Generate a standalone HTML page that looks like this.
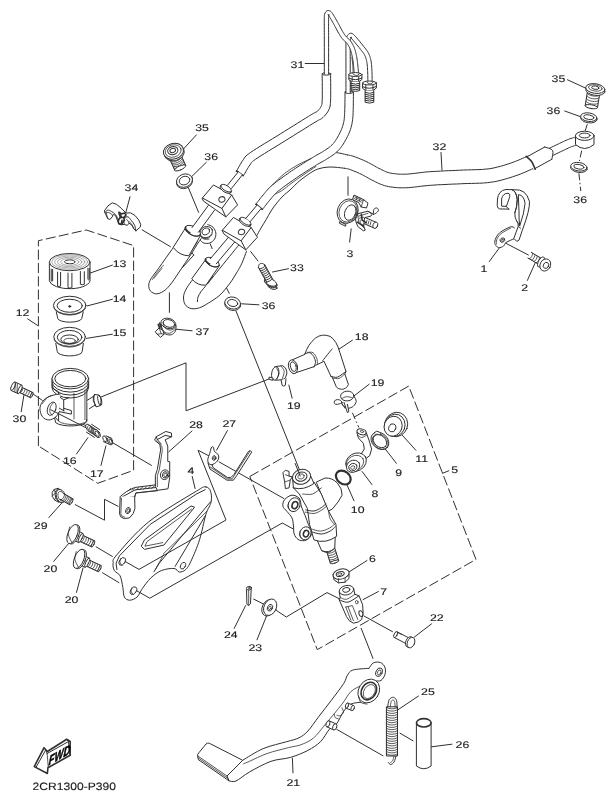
<!DOCTYPE html>
<html><head><meta charset="utf-8"><title>Rear master cylinder</title>
<style>
html,body{margin:0;padding:0;background:#fff}
svg{display:block;filter:blur(0.42px)}
path,ellipse,circle,line,polygon,polyline,rect{vector-effect:non-scaling-stroke;fill:none;stroke:#303030;stroke-width:1.0;stroke-linecap:round;stroke-linejoin:round}
.w{fill:#fff}
.k{fill:#303030}
.to{stroke-linecap:butt}
.ti{stroke:#fff;stroke-linecap:butt}
.d{stroke-dasharray:10 3.3;stroke-linecap:butt}
.dd{stroke-dasharray:7 2.5 1.5 2.5;stroke-linecap:butt}
.t{stroke-width:0.8}
.b{stroke-width:1.6}
.l{stroke-width:0.6;stroke:#777}
text{text-rendering:geometricPrecision;font-family:"Liberation Sans",sans-serif;fill:#1a1a1a;stroke:#1a1a1a;stroke-width:0.12}
</style></head>
<body>
<svg width="614" height="800" viewBox="0 0 614 800">
<rect x="0" y="0" width="614" height="800" style="fill:#fff;stroke:none"/>
<path d="M305.2 63.5 L324.2 63.5"/><path d="M441 152.5 L442 170"/><path d="M567.5 79.8 L586 88.3"/><path d="M564.7 111 L580.3 116.6"/><path d="M196.3 135 L183.2 149.3"/><path d="M206.3 162.3 L192.3 176"/><path d="M130 196.8 L125.8 212.6"/><path d="M142.2 229.9 L170.4 246.7"/><path d="M188.3 187.5 L198.6 212.4"/><path d="M169.4 292.8 L169.4 312.4"/><path d="M192.1 330.8 L175.8 329.2"/><path d="M348 176.8 L348 195.3"/><path d="M351.2 228.9 L349.6 242"/><path d="M489.3 261.5 L499.1 248.2"/><path d="M527.4 280.4 L535.2 262.8"/><path d="M504 242.3 L528.4 255"/><path d="M288.5 268.7 L272.5 272"/><path d="M250.7 251.5 L258 261"/><path d="M258.9 304.8 L241.6 303.8"/><path d="M236 311 L299.5 470"/><path d="M112.4 265.1 L89.6 273.3"/><path d="M112.4 299.3 L87.3 305.9"/><path d="M112.4 334.2 L86.3 338.4"/><path d="M27.7 318.9 L37.5 325.4"/><path d="M21.2 411.7 L24.4 392.1"/><path d="M32.6 393.7 L42.3 400.3"/><path d="M76.5 454 L87.9 437.7"/><path d="M101 465.4 L105.9 445.9"/><path d="M70 416.5 L89.6 428"/><path d="M112.4 442.6 L151.5 465.4"/><path d="M101 397 L186 362.8 L186 410.8 L268.5 379.2"/><path d="M192 431 L168.8 451.8"/><path d="M227.4 430.6 L216.6 450.2"/><path d="M192.2 476.5 L195.1 488.6"/><path d="M48.9 517.5 L61.9 502.9"/><path d="M75.2 504.6 L104.5 520.2 L104.5 499.3 L118 506.3"/><path d="M53.7 561.4 L70 541.9"/><path d="M76.5 592.4 L83 568"/><path d="M96.1 546.8 L112.4 556.5"/><path d="M102.6 572.8 L118.9 582.6"/><path d="M352.4 340.2 L337.7 350"/><path d="M369.2 384.2 L354.2 395.8"/><path d="M292.1 398.2 L288.9 385.1"/><path d="M415.9 450.3 L401.2 434"/><path d="M396.4 463.3 L385 448.7"/><path d="M371.9 484.5 L362.1 471.5"/><path d="M354 500.8 L346.8 484.5"/><path d="M442.5 473.3 L448.8 470.8"/><path d="M367 560.5 L349.1 571.9"/><path d="M378.4 591.5 L363.1 599.6"/><path d="M431.5 623.9 L414.4 637"/><path d="M363.8 615.9 L392.5 631.7"/><path d="M234.2 628.4 L245.6 605.6"/><path d="M257 639.8 L266.8 615.4"/><path d="M253.7 599.1 L263.5 604"/><path d="M276.5 610.5 L286.3 617 L327 592.6 L340 599.1"/><path d="M361.2 628.4 L373 658.5"/><path d="M336.8 729.4 L383 755.8"/><path d="M418.5 696 L398.2 709.6"/><path d="M431.4 746.8 L452 744.2"/><path d="M400 733.2 L413 740.8"/><path d="M292.4 758.2 L293 772.8"/><path d="M587.3 124.2 L585 131.5" class="dd"/><path d="M581.7 150.6 L579.4 161" class="dd"/><path d="M578.9 173.3 L580.8 191" class="dd"/><path d="M226.3 287.5 L229.6 294" class="dd"/><path d="M210 243.5 L212.3 249" class="dd"/><path d="M352.4 412.8 L358.9 427.5" class="dd"/><path d="M38.4 445.9 L38.4 240.7 L86.3 230 L133.6 245.6 L133.6 470.3 L97.7 483.3 L38.4 445.9" class="d"/><path d="M249.8 476.5 L408.7 386.1 L476 559.4 L317.3 649.6Z" class="d"/><path d="M344.7 168.3 L345.2 168.4 L345.9 168.5 L346.4 168.6 L347 168.7 L347.6 168.8 L348.2 168.9 L348.9 169.1 L349.8 169.4 L350.8 169.8 L352.1 170.3 L353.5 170.9 L355 171.5 L356.6 172.1 L358.1 172.8 L359.6 173.5 L361 174.1 L362.4 174.8 L363.7 175.5 L365.2 176.3 L366.6 177.2 L368.2 178 L369.7 178.9 L371.4 179.8 L373 180.6 L374.4 181.3 L375.8 182 L377.3 182.7 L378.9 183.5 L380.5 184.2 L382.4 184.9 L384.4 185.6 L386.5 186.1 L388.5 186.6 L390.6 186.9 L392.8 187.2 L395.1 187.5 L397.4 187.7 L399.9 187.8 L402.4 187.8 L405.2 187.8 L408.2 187.7 L411.2 187.4 L414.3 187.1 L417.5 186.7 L420.7 186.3 L424 185.9 L427.2 185.6 L430.5 185.3 L433.9 185.1 L437.5 184.8 L441.2 184.7 L445 184.5 L448.8 184.3 L452.7 184.1 L456.5 184 L460.3 183.8 L464 183.6 L467.8 183.5 L471.7 183.4 L475.7 183.3 L479.6 183.2 L483.4 183 L487.3 182.7 L490.9 182.2 L494.5 181.7 L497.8 181 L501.1 180.2 L504.1 179.4 L507.1 178.5 L509.9 177.7 L512.6 176.8 L515.2 175.9 L517.9 175 L520.6 174 L523.2 172.9 L525.6 171.9 L527.9 170.9 L529.9 170 L531.5 169.3 L532.7 168.7 L527.3 156.3 L526 156.8 L524.3 157.6 L522.4 158.4 L520.2 159.4 L517.9 160.4 L515.6 161.3 L513.2 162.2 L510.8 163.1 L508.4 163.9 L505.8 164.7 L503.2 165.5 L500.5 166.3 L497.7 167 L494.9 167.7 L492 168.3 L489.1 168.8 L485.9 169.1 L482.5 169.4 L479 169.6 L475.2 169.7 L471.4 169.8 L467.5 169.9 L463.6 170 L459.7 170.2 L455.9 170.4 L452.1 170.6 L448.2 170.7 L444.4 170.9 L440.6 171.1 L436.8 171.3 L433.1 171.5 L429.5 171.7 L425.9 172 L422.5 172.4 L419.1 172.8 L415.9 173.2 L412.8 173.6 L409.9 173.9 L407.3 174.1 L404.8 174.2 L402.5 174.2 L400.3 174.2 L398.2 174.1 L396.3 173.9 L394.5 173.7 L392.8 173.5 L391.1 173.2 L389.5 172.9 L388.1 172.5 L386.9 172.1 L385.7 171.7 L384.5 171.1 L383.3 170.5 L381.9 169.9 L380.5 169.1 L379 168.4 L377.6 167.7 L376.3 167 L374.8 166.2 L373.4 165.3 L371.8 164.5 L370.3 163.6 L368.6 162.7 L367 161.9 L365.3 161.1 L363.6 160.3 L361.9 159.6 L360.2 158.9 L358.6 158.2 L357 157.6 L355.6 157.1 L354.2 156.6 L352.9 156.1 L351.7 155.8 L350.5 155.5 L349.5 155.3 L348.7 155.2 L348 155.1 L347.6 155 L347.3 154.9Z" style="fill:#fff;stroke:none"/><path d="M344.7 168.3 L345.2 168.4 L345.9 168.5 L346.4 168.6 L347 168.7 L347.6 168.8 L348.2 168.9 L348.9 169.1 L349.8 169.4 L350.8 169.8 L352.1 170.3 L353.5 170.9 L355 171.5 L356.6 172.1 L358.1 172.8 L359.6 173.5 L361 174.1 L362.4 174.8 L363.7 175.5 L365.2 176.3 L366.6 177.2 L368.2 178 L369.7 178.9 L371.4 179.8 L373 180.6 L374.4 181.3 L375.8 182 L377.3 182.7 L378.9 183.5 L380.5 184.2 L382.4 184.9 L384.4 185.6 L386.5 186.1 L388.5 186.6 L390.6 186.9 L392.8 187.2 L395.1 187.5 L397.4 187.7 L399.9 187.8 L402.4 187.8 L405.2 187.8 L408.2 187.7 L411.2 187.4 L414.3 187.1 L417.5 186.7 L420.7 186.3 L424 185.9 L427.2 185.6 L430.5 185.3 L433.9 185.1 L437.5 184.8 L441.2 184.7 L445 184.5 L448.8 184.3 L452.7 184.1 L456.5 184 L460.3 183.8 L464 183.6 L467.8 183.5 L471.7 183.4 L475.7 183.3 L479.6 183.2 L483.4 183 L487.3 182.7 L490.9 182.2 L494.5 181.7 L497.8 181 L501.1 180.2 L504.1 179.4 L507.1 178.5 L509.9 177.7 L512.6 176.8 L515.2 175.9 L517.9 175 L520.6 174 L523.2 172.9 L525.6 171.9 L527.9 170.9 L529.9 170 L531.5 169.3 L532.7 168.7"/><path d="M347.3 154.9 L347.6 155 L348 155.1 L348.7 155.2 L349.5 155.3 L350.5 155.5 L351.7 155.8 L352.9 156.1 L354.2 156.6 L355.6 157.1 L357 157.6 L358.6 158.2 L360.2 158.9 L361.9 159.6 L363.6 160.3 L365.3 161.1 L367 161.9 L368.6 162.7 L370.3 163.6 L371.8 164.5 L373.4 165.3 L374.8 166.2 L376.3 167 L377.6 167.7 L379 168.4 L380.5 169.1 L381.9 169.9 L383.3 170.5 L384.5 171.1 L385.7 171.7 L386.9 172.1 L388.1 172.5 L389.5 172.9 L391.1 173.2 L392.8 173.5 L394.5 173.7 L396.3 173.9 L398.2 174.1 L400.3 174.2 L402.5 174.2 L404.8 174.2 L407.3 174.1 L409.9 173.9 L412.8 173.6 L415.9 173.2 L419.1 172.8 L422.5 172.4 L425.9 172 L429.5 171.7 L433.1 171.5 L436.8 171.3 L440.6 171.1 L444.4 170.9 L448.2 170.7 L452.1 170.6 L455.9 170.4 L459.7 170.2 L463.6 170 L467.5 169.9 L471.4 169.8 L475.2 169.7 L479 169.6 L482.5 169.4 L485.9 169.1 L489.1 168.8 L492 168.3 L494.9 167.7 L497.7 167 L500.5 166.3 L503.2 165.5 L505.8 164.7 L508.4 163.9 L510.8 163.1 L513.2 162.2 L515.6 161.3 L517.9 160.4 L520.2 159.4 L522.4 158.4 L524.3 157.6 L526 156.8 L527.3 156.3"/><path d="M344.7 168.3 C343.1 168.1 337.9 167.4 335 167.2 C332.1 167 329.7 166.9 327 167.2 C324.3 167.4 321.5 167.9 319 168.7 C316.5 169.5 315.1 170 311.9 172 C308.7 174 303.6 177.5 300 180.5 C296.4 183.5 292.8 187.4 290 190 C287.2 192.6 285.2 193.8 283 196 C280.8 198.2 278.9 200.4 276.9 202.9 C274.9 205.4 272.8 208.2 271 211 C269.2 213.8 267.9 216.7 266.2 219.5 C264.5 222.3 262.6 225.2 261 228 C259.4 230.8 257.3 234.7 256.6 236"/><path d="M347.3 154.9 C346.3 154.7 342.9 153.8 341 153.4 C339.1 153 336.8 152.7 336 152.6"/><path d="M549.7 157 L550.7 156.5 L552 155.9 L553.5 155.2 L555.1 154.4 L556.9 153.5 L558.6 152.7 L560.2 151.9 L561.7 151.2 L563.1 150.6 L564.4 149.9 L565.7 149.3 L567 148.7 L568.2 148.1 L569.3 147.6 L570.4 147.2 L571.4 146.7 L572.5 146.4 L573.5 146 L574.6 145.7 L575.7 145.4 L576.7 145.1 L577.6 144.8 L578.5 144.6 L579.1 144.4 L576.9 136.8 L576.3 136.9 L575.6 137.1 L574.6 137.4 L573.6 137.7 L572.4 138 L571.1 138.4 L569.8 138.8 L568.6 139.3 L567.3 139.8 L566.1 140.3 L564.8 140.9 L563.5 141.5 L562.3 142.1 L561 142.7 L559.6 143.3 L558.3 144 L556.8 144.7 L555.1 145.5 L553.4 146.3 L551.6 147.2 L550 148 L548.5 148.7 L547.2 149.3 L546.3 149.8Z" style="fill:#fff;stroke:none"/><path d="M549.7 157 L550.7 156.5 L552 155.9 L553.5 155.2 L555.1 154.4 L556.9 153.5 L558.6 152.7 L560.2 151.9 L561.7 151.2 L563.1 150.6 L564.4 149.9 L565.7 149.3 L567 148.7 L568.2 148.1 L569.3 147.6 L570.4 147.2 L571.4 146.7 L572.5 146.4 L573.5 146 L574.6 145.7 L575.7 145.4 L576.7 145.1 L577.6 144.8 L578.5 144.6 L579.1 144.4"/><path d="M546.3 149.8 L547.2 149.3 L548.5 148.7 L550 148 L551.6 147.2 L553.4 146.3 L555.1 145.5 L556.8 144.7 L558.3 144 L559.6 143.3 L561 142.7 L562.3 142.1 L563.5 141.5 L564.8 140.9 L566.1 140.3 L567.3 139.8 L568.6 139.3 L569.8 138.8 L571.1 138.4 L572.4 138 L573.6 137.7 L574.6 137.4 L575.6 137.1 L576.3 136.9 L576.9 136.8"/><path d="M534.1 169 L551.6 159.4 L544.8 147 L527.3 156.6Z" style="fill:#fff;stroke:none"/><path d="M534.1 169 L551.6 159.4"/><path d="M527.3 156.6 L544.8 147"/><path d="M526.2 156.4 C527.1 157.2 530.1 159.4 531.6 161.5 C533.1 163.6 534.6 167.9 535.2 169.2" class="b"/><path d="M544.6 147 C545.9 147.6 551.4 148.4 552.6 150.5 C553.8 152.6 551.9 157.9 551.8 159.4" class="w"/><path d="M575.5 136 L575.5 144.5 Q584.5 152.5 594 144.5 L594 136Z" class="w"/><ellipse cx="584.7" cy="135.8" rx="9.3" ry="4.6" class="w"/><ellipse cx="584.7" cy="135.5" rx="5.4" ry="2.4"/><g transform="translate(180 215) scale(0.13029)"><path d="M95 500 C88.3 509.2 66.2 535 55 555 C43.8 575 30.8 598.3 28 620 C25.2 641.7 28.5 668.7 38 685 C47.5 701.3 66.3 713.5 85 718 C103.7 722.5 127.5 719.2 150 712 C172.5 704.8 195 690.3 220 675 C245 659.7 277.5 639.2 300 620 C322.5 600.8 338.3 580 355 560 C371.7 540 385.8 520.8 400 500 C414.2 479.2 427.5 456.7 440 435 C452.5 413.3 463.3 395.8 475 370 C486.7 344.2 504.2 295 510 280 L450 230 L210 530 Z" style="fill:#fff;stroke:none"/><path d="M95 500 C88.3 509.2 66.2 535 55 555 C43.8 575 30.8 598.3 28 620 C25.2 641.7 28.5 668.7 38 685 C47.5 701.3 66.3 713.5 85 718 C103.7 722.5 127.5 719.2 150 712 C172.5 704.8 195 690.3 220 675 C245 659.7 277.5 639.2 300 620 C322.5 600.8 338.3 580 355 560 C371.7 540 385.8 520.8 400 500 C414.2 479.2 427.5 456.7 440 435 C452.5 413.3 463.3 395.8 475 370 C486.7 344.2 504.2 295 510 280"/><path d="M450 232 C430 256.7 370 330.3 330 380 C290 429.7 230 505 210 530"/><path d="M197 545 C190.8 552.5 169.8 575.8 160 590 C150.2 604.2 142.3 617.5 138 630 C133.7 642.5 134.7 659.2 134 665"/><path d="M195 345 L90 490 Q135 545 200 538 L298 395 Z" class="w"/><ellipse cx="248" cy="362" rx="58" ry="30" transform="rotate(26 248 362)" class="w"/><path d="M210 528 L250 470" class="t"/><path d="M372.1 170.7 L233.1 335.7 L278.9 374.3 L417.9 209.3Z" style="fill:#fff;stroke:none"/><path d="M372.1 170.7 L233.1 335.7"/><path d="M417.9 209.3 L278.9 374.3"/><path d="M301.1 385 L297.6 391.2 L291.3 395.7 L282.6 398.4 L272 399 L260.1 397.6 L247.4 394.2 L234.8 389 L223 382.2 L212.5 374.4 L204 365.9 L198 357.1 L194.8 348.6 L194.5 340.9 L197.2 334.3"/><path d="M227.6 376.2 L223.3 373.6 L219.1 370.7 L215.2 367.8 L211.6 364.8 L208.3 361.8 L205.3 358.7 L202.8 355.7 L200.6 352.7 L198.9 349.8 L197.6 346.9 L196.8 344.2 L196.4 341.6 L196.6 339.3 L197.1 337.1" class="b"/><path d="M325 117 L410 19 L546 96 L594 171 L505 268 L341 149Z" class="w"/><path d="M325 117 L469 198 L546 96"/><path d="M469 198 L505 268"/><ellipse cx="472" cy="130" rx="25" ry="21" transform="rotate(-15 472 130)"/><ellipse cx="497" cy="58" rx="48" ry="20" transform="rotate(32 497 58)" class="w"/><path d="M457 30 L462 22 M538 84 L544 76"/><ellipse cx="503" cy="48" rx="48" ry="20" transform="rotate(32 503 48)" class="w"/></g>
<g transform="translate(140 205) scale(0.13029)"><path d="M520 150 C526.7 153.3 549.7 159.2 560 170 C570.3 180.8 580 199.7 582 215 C584 230.3 579.8 249.2 572 262 C564.2 274.8 548.7 287 535 292 C521.3 297 502.2 295.7 490 292 C477.8 288.3 466.7 273.7 462 270" class="w"/><ellipse cx="508" cy="208" rx="50" ry="42" transform="rotate(-25 508 208)" class="w"/><ellipse cx="505" cy="203" rx="31" ry="24" transform="rotate(-25 505 203)"/><path d="M460 225 C463 229.5 468 246.8 478 252 C488 257.2 507.7 260 520 256 C532.3 252 546.7 232.7 552 228" class="t"/><path d="M470 240 C473.7 243.7 482 258.3 492 262 C502 265.7 523.7 262 530 262" class="t"/><path d="M255 328 C245.8 340.8 219.2 378 200 405 C180.8 432 159.2 463.3 140 490 C120.8 516.7 97.2 544.2 85 565 C72.8 585.8 67.8 599.2 67 615 C66.2 630.8 70.3 648.8 80 660 C89.7 671.2 108.3 681.7 125 682 C141.7 682.3 162.5 673.2 180 662 C197.5 650.8 211.7 637 230 615 C248.3 593 270 559.2 290 530 C310 500.8 331.7 467.5 350 440 C368.3 412.5 385 388.3 400 365 C415 341.7 427.5 319.2 440 300 C452.5 280.8 469.2 258.3 475 250 L375 390 Z" style="fill:#fff;stroke:none"/><path d="M255 328 C245.8 340.8 219.2 378 200 405 C180.8 432 159.2 463.3 140 490 C120.8 516.7 97.2 544.2 85 565 C72.8 585.8 67.8 599.2 67 615 C66.2 630.8 70.3 648.8 80 660 C89.7 671.2 108.3 681.7 125 682 C141.7 682.3 162.5 673.2 180 662 C197.5 650.8 211.7 637 230 615 C248.3 593 270 559.2 290 530 C310 500.8 331.7 467.5 350 440 C368.3 412.5 385 388.3 400 365 C415 341.7 427.5 319.2 440 300 C452.5 280.8 469.2 258.3 475 250"/><path d="M95 572 C100.8 563.3 115.8 538.3 130 520 C144.2 501.7 171.7 471.7 180 462" class="t"/><path d="M108 562 C112.5 556.2 125 539.3 135 527 C145 514.7 162.5 494.5 168 488" class="t"/><path d="M412 385 L328 478 M400 365 L412 385"/><path d="M440 282 L398 348" class="t"/><path d="M348 178 L255 325 Q300 388 375 390 L462 238 Z" class="w"/><ellipse cx="406" cy="198" rx="64" ry="33" transform="rotate(28 406 198)" class="w"/><path d="M523.8 4.3 L399.8 173.3 L448.2 208.7 L572.2 39.7Z" style="fill:#fff;stroke:none"/><path d="M523.8 4.3 L399.8 173.3"/><path d="M572.2 39.7 L448.2 208.7"/><path d="M463.6 225.4 L459.6 232.1 L452.5 236.8 L442.8 239.4 L431.1 239.7 L418 237.6 L404.2 233.4 L390.5 227.1 L377.7 219.3 L366.4 210.2 L357.4 200.5 L351.1 190.6 L347.8 181.2 L347.8 172.6 L351.1 165.5"/><path d="M382.8 213.7 L378 210.6 L373.5 207.3 L369.3 203.8 L365.4 200.4 L361.9 196.8 L358.7 193.3 L356 189.8 L353.8 186.4 L352 183 L350.7 179.8 L349.9 176.7 L349.6 173.8 L349.9 171.1 L350.6 168.7" class="b"/></g>
<path d="M345 92 L345 93.8 L345 96.4 L345 99.4 L344.9 102.7 L344.9 106 L344.8 109.3 L344.7 112.3 L344.6 114.7 L344.4 116.7 L344.3 118.5 L344.1 120 L343.9 121.4 L343.6 122.7 L343.3 124 L342.9 125.3 L342.5 126.7 L342 128.1 L341.4 129.6 L340.7 131.2 L340 132.7 L339.2 134.2 L338.4 135.7 L337.7 137 L336.9 138.3 L336.2 139.5 L335.5 140.6 L334.8 141.5 L334.2 142.4 L333.5 143.3 L332.7 144.1 L332 144.9 L331.1 145.7 L330.3 146.5 L329.3 147.3 L328.2 148.1 L327 148.9 L325.9 149.7 L324.6 150.4 L323.4 151.2 L322.3 151.9 L321.2 152.6 L320.1 153.2 L319.1 153.8 L318 154.4 L316.9 155 L315.8 155.6 L314.6 156.3 L313.5 157 L312.3 157.7 L311.2 158.4 L310 159.1 L308.9 159.8 L307.7 160.5 L306.5 161.3 L305.1 162.2 L303.7 163.1 L302.2 164 L300.6 165 L299 166.1 L297.2 167.2 L295.4 168.4 L293.6 169.6 L291.6 170.9 L289.7 172.2 L287.7 173.7 L285.5 175.2 L283.2 176.8 L280.9 178.5 L278.6 180.1 L276.4 181.8 L274.3 183.4 L272.5 184.9 L270.9 186.3 L269.4 187.7 L268.2 189 L267.1 190.2 L266.1 191.4 L265.1 192.6 L264.2 193.7 L263.3 194.8 L262.2 196.1 L261.1 197.4 L260 198.8 L259 200.2 L258 201.4 L257.1 202.6 L256.4 203.5 L255.9 204.2 L262.5 209.4 L263.1 208.6 L263.8 207.7 L264.7 206.5 L265.6 205.3 L266.6 204 L267.7 202.7 L268.7 201.4 L269.7 200.2 L270.7 199 L271.6 197.9 L272.5 196.8 L273.4 195.8 L274.4 194.7 L275.4 193.6 L276.6 192.5 L277.9 191.3 L279.6 190 L281.5 188.5 L283.6 186.9 L285.8 185.3 L288.1 183.7 L290.3 182.1 L292.5 180.6 L294.5 179.2 L296.4 177.9 L298.2 176.6 L300 175.4 L301.8 174.3 L303.5 173.2 L305.2 172.1 L306.7 171.1 L308.3 170.1 L309.7 169.2 L311 168.4 L312.2 167.6 L313.3 166.9 L314.5 166.2 L315.5 165.5 L316.6 164.9 L317.7 164.2 L318.8 163.6 L319.9 163 L321 162.4 L322.1 161.8 L323.2 161.2 L324.4 160.5 L325.5 159.8 L326.7 159.1 L327.9 158.3 L329.2 157.5 L330.4 156.7 L331.8 155.8 L333.1 154.9 L334.4 154 L335.6 152.9 L336.9 151.9 L337.9 150.8 L338.9 149.8 L339.9 148.7 L340.8 147.6 L341.6 146.4 L342.5 145.2 L343.3 144 L344.1 142.7 L344.9 141.2 L345.8 139.7 L346.7 138.1 L347.5 136.4 L348.4 134.7 L349.1 132.9 L349.9 131.1 L350.5 129.3 L351 127.7 L351.4 126.1 L351.8 124.5 L352.1 122.9 L352.4 121.2 L352.6 119.4 L352.8 117.5 L353 115.3 L353.1 112.6 L353.2 109.5 L353.3 106.2 L353.3 102.7 L353.4 99.4 L353.4 96.4 L353.4 93.9 L353.4 92Z" style="fill:#fff;stroke:none"/><path d="M345 92 L345 93.8 L345 96.4 L345 99.4 L344.9 102.7 L344.9 106 L344.8 109.3 L344.7 112.3 L344.6 114.7 L344.4 116.7 L344.3 118.5 L344.1 120 L343.9 121.4 L343.6 122.7 L343.3 124 L342.9 125.3 L342.5 126.7 L342 128.1 L341.4 129.6 L340.7 131.2 L340 132.7 L339.2 134.2 L338.4 135.7 L337.7 137 L336.9 138.3 L336.2 139.5 L335.5 140.6 L334.8 141.5 L334.2 142.4 L333.5 143.3 L332.7 144.1 L332 144.9 L331.1 145.7 L330.3 146.5 L329.3 147.3 L328.2 148.1 L327 148.9 L325.9 149.7 L324.6 150.4 L323.4 151.2 L322.3 151.9 L321.2 152.6 L320.1 153.2 L319.1 153.8 L318 154.4 L316.9 155 L315.8 155.6 L314.6 156.3 L313.5 157 L312.3 157.7 L311.2 158.4 L310 159.1 L308.9 159.8 L307.7 160.5 L306.5 161.3 L305.1 162.2 L303.7 163.1 L302.2 164 L300.6 165 L299 166.1 L297.2 167.2 L295.4 168.4 L293.6 169.6 L291.6 170.9 L289.7 172.2 L287.7 173.7 L285.5 175.2 L283.2 176.8 L280.9 178.5 L278.6 180.1 L276.4 181.8 L274.3 183.4 L272.5 184.9 L270.9 186.3 L269.4 187.7 L268.2 189 L267.1 190.2 L266.1 191.4 L265.1 192.6 L264.2 193.7 L263.3 194.8 L262.2 196.1 L261.1 197.4 L260 198.8 L259 200.2 L258 201.4 L257.1 202.6 L256.4 203.5 L255.9 204.2"/><path d="M353.4 92 L353.4 93.9 L353.4 96.4 L353.4 99.4 L353.3 102.7 L353.3 106.2 L353.2 109.5 L353.1 112.6 L353 115.3 L352.8 117.5 L352.6 119.4 L352.4 121.2 L352.1 122.9 L351.8 124.5 L351.4 126.1 L351 127.7 L350.5 129.3 L349.9 131.1 L349.1 132.9 L348.4 134.7 L347.5 136.4 L346.7 138.1 L345.8 139.7 L344.9 141.2 L344.1 142.7 L343.3 144 L342.5 145.2 L341.6 146.4 L340.8 147.6 L339.9 148.7 L338.9 149.8 L337.9 150.8 L336.9 151.9 L335.6 152.9 L334.4 154 L333.1 154.9 L331.8 155.8 L330.4 156.7 L329.2 157.5 L327.9 158.3 L326.7 159.1 L325.5 159.8 L324.4 160.5 L323.2 161.2 L322.1 161.8 L321 162.4 L319.9 163 L318.8 163.6 L317.7 164.2 L316.6 164.9 L315.5 165.5 L314.5 166.2 L313.3 166.9 L312.2 167.6 L311 168.4 L309.7 169.2 L308.3 170.1 L306.7 171.1 L305.2 172.1 L303.5 173.2 L301.8 174.3 L300 175.4 L298.2 176.6 L296.4 177.9 L294.5 179.2 L292.5 180.6 L290.3 182.1 L288.1 183.7 L285.8 185.3 L283.6 186.9 L281.5 188.5 L279.6 190 L277.9 191.3 L276.6 192.5 L275.4 193.6 L274.4 194.7 L273.4 195.8 L272.5 196.8 L271.6 197.9 L270.7 199 L269.7 200.2 L268.7 201.4 L267.7 202.7 L266.6 204 L265.6 205.3 L264.7 206.5 L263.8 207.7 L263.1 208.6 L262.5 209.4"/><path d="M322.2 73.7 L322.2 75.9 L322.2 78.9 L322.3 82.5 L322.3 86.4 L322.3 90.3 L322.3 94.1 L322.3 97.3 L322.2 99.9 L322.1 101.7 L322 103 L322 103.9 L321.9 104.5 L321.8 104.7 L321.7 105 L321.5 105.5 L321.2 106.2 L320.9 106.9 L320.5 107.6 L320 108.2 L319.5 108.9 L319 109.6 L318.4 110.2 L317.8 110.8 L317.2 111.4 L316.8 111.7 L316.8 111.7 L316.9 111.6 L316.6 111.8 L315.9 112.1 L314.8 112.6 L313.3 113.5 L311.2 114.7 L308.5 116.4 L305.3 118.4 L301.5 120.7 L297.4 123.3 L293.2 125.9 L288.9 128.6 L284.7 131.2 L280.8 133.6 L276.9 136.1 L272.7 138.6 L268.5 141.2 L264.3 143.7 L260.3 146.2 L256.6 148.5 L253.3 150.6 L250.6 152.4 L248.6 153.9 L247.1 155 L245.9 156 L245 157.1 L244.3 158 L243.9 158.7 L243.6 159.3 L243 160.1 L242.1 161.4 L241.1 163 L240.2 164.6 L239.2 166.3 L238.3 167.9 L237.5 169.3 L236.8 170.5 L236.4 171.3 L243.6 175.5 L244.2 174.6 L244.8 173.4 L245.6 172 L246.5 170.4 L247.4 168.9 L248.3 167.4 L249.1 166.1 L250 164.9 L250.7 163.8 L251.2 162.9 L251.5 162.5 L251.6 162.3 L251.8 162.1 L252.4 161.6 L253.5 160.7 L255.4 159.4 L257.9 157.7 L261.1 155.6 L264.7 153.4 L268.7 150.9 L272.9 148.3 L277.1 145.8 L281.3 143.2 L285.2 140.8 L289.2 138.3 L293.4 135.7 L297.6 133 L301.9 130.4 L305.9 127.9 L309.7 125.5 L312.9 123.5 L315.6 121.9 L317.5 120.8 L318.7 120.1 L319.5 119.7 L319.9 119.5 L320.5 119.3 L321.3 118.8 L322 118.3 L322.8 117.6 L323.6 116.8 L324.5 116 L325.3 115.1 L326.1 114.1 L326.9 113.1 L327.6 112 L328.3 110.9 L328.8 109.8 L329.2 108.9 L329.6 108 L329.9 107.1 L330.1 106 L330.3 104.9 L330.4 103.6 L330.5 102.1 L330.6 100.1 L330.7 97.5 L330.7 94.1 L330.7 90.3 L330.7 86.3 L330.7 82.4 L330.6 78.8 L330.6 75.8 L330.6 73.7Z" style="fill:#fff;stroke:none"/><path d="M322.2 73.7 L322.2 75.9 L322.2 78.9 L322.3 82.5 L322.3 86.4 L322.3 90.3 L322.3 94.1 L322.3 97.3 L322.2 99.9 L322.1 101.7 L322 103 L322 103.9 L321.9 104.5 L321.8 104.7 L321.7 105 L321.5 105.5 L321.2 106.2 L320.9 106.9 L320.5 107.6 L320 108.2 L319.5 108.9 L319 109.6 L318.4 110.2 L317.8 110.8 L317.2 111.4 L316.8 111.7 L316.8 111.7 L316.9 111.6 L316.6 111.8 L315.9 112.1 L314.8 112.6 L313.3 113.5 L311.2 114.7 L308.5 116.4 L305.3 118.4 L301.5 120.7 L297.4 123.3 L293.2 125.9 L288.9 128.6 L284.7 131.2 L280.8 133.6 L276.9 136.1 L272.7 138.6 L268.5 141.2 L264.3 143.7 L260.3 146.2 L256.6 148.5 L253.3 150.6 L250.6 152.4 L248.6 153.9 L247.1 155 L245.9 156 L245 157.1 L244.3 158 L243.9 158.7 L243.6 159.3 L243 160.1 L242.1 161.4 L241.1 163 L240.2 164.6 L239.2 166.3 L238.3 167.9 L237.5 169.3 L236.8 170.5 L236.4 171.3"/><path d="M330.6 73.7 L330.6 75.8 L330.6 78.8 L330.7 82.4 L330.7 86.3 L330.7 90.3 L330.7 94.1 L330.7 97.5 L330.6 100.1 L330.5 102.1 L330.4 103.6 L330.3 104.9 L330.1 106 L329.9 107.1 L329.6 108 L329.2 108.9 L328.8 109.8 L328.3 110.9 L327.6 112 L326.9 113.1 L326.1 114.1 L325.3 115.1 L324.5 116 L323.6 116.8 L322.8 117.6 L322 118.3 L321.3 118.8 L320.5 119.3 L319.9 119.5 L319.5 119.7 L318.7 120.1 L317.5 120.8 L315.6 121.9 L312.9 123.5 L309.7 125.5 L305.9 127.9 L301.9 130.4 L297.6 133 L293.4 135.7 L289.2 138.3 L285.2 140.8 L281.3 143.2 L277.1 145.8 L272.9 148.3 L268.7 150.9 L264.7 153.4 L261.1 155.6 L257.9 157.7 L255.4 159.4 L253.5 160.7 L252.4 161.6 L251.8 162.1 L251.6 162.3 L251.5 162.5 L251.2 162.9 L250.7 163.8 L250 164.9 L249.1 166.1 L248.3 167.4 L247.4 168.9 L246.5 170.4 L245.6 172 L244.8 173.4 L244.2 174.6 L243.6 175.5"/><ellipse cx="326.4" cy="73.9" rx="4.3" ry="1.2" class="w"/><ellipse cx="349.2" cy="92.2" rx="4.3" ry="1.2" class="w"/><path d="M316 166.5 C313.8 167.9 307.2 172.3 303 175.2 C298.8 178 294.5 181 291 183.6 C287.5 186.2 284.6 188.8 282 190.5 C279.4 192.2 276.6 193.4 275.5 194" class="t"/><path d="M311 158.6 C308.8 159.6 302.4 162.3 298 164.8 C293.6 167.3 288.7 170.2 284.5 173.5 C280.3 176.8 274.6 182.9 272.6 184.8" class="t"/><path d="M236.5 171 L243.2 175.6" class="b"/><path d="M256 204.2 L262.3 209.3" class="b"/><path d="M238.3 171.8 L227.5 185.2 L231.5 188.4 L242.3 175Z" style="fill:#fff;stroke:none"/><path d="M238.3 171.8 L227.5 185.2"/><path d="M242.3 175 L231.5 188.4"/><path d="M257 205.1 L245.9 218.3 L250.1 221.7 L261.2 208.5Z" style="fill:#fff;stroke:none"/><path d="M257 205.1 L245.9 218.3"/><path d="M261.2 208.5 L250.1 221.7"/><g transform="translate(190 170) scale(0.13029)"><path d="M95 215 L180 115 L320 192 L365 268 L275 360 L105 240Z" class="w"/><path d="M95 215 L245 295 L320 192"/><path d="M245 295 L275 360"/><ellipse cx="245" cy="226" rx="24" ry="21" transform="rotate(-15 245 226)"/><ellipse cx="272" cy="150" rx="46" ry="20" transform="rotate(32 272 150)" class="w"/><path d="M233 124 L238 116 M311 176 L317 168"/><ellipse cx="278" cy="140" rx="46" ry="20" transform="rotate(32 278 140)" class="w"/></g>
<g transform="translate(315 0) scale(0.13029)"><path d="M270.5 712 L270.5 695.3 L270.5 672.7 L270.5 645.7 L270.5 616 L270.5 585 L270.5 554.3 L270.5 525.5 L270.5 500 L270.5 476.7 L270.5 453.5 L270.4 430.9 L270.4 409.2 L270.4 388.9 L270.4 370.4 L270.4 354 L270.5 340.1 L270.6 329.3 L270.6 321.3 L270.7 315.7 L270.7 312.1 L270.9 310.1 L271 308.7 L271.4 306.7 L272.1 303.7 L272.9 300.2 L273.8 297.1 L274.7 294.4 L275.7 292.1 L276.5 290.5 L277.1 289.7 L276.9 289.8 L277.5 289.5 L280.1 287.6 L282.1 285.9 L280.8 286.6 L275.8 288 L271.4 287.4 L271 287.2 L273.6 289.2 L278.3 293.6 L285.3 301.1 L294.6 311.7 L305.4 324.4 L316.9 338.2 L328.4 352.4 L339.4 366 L349.2 378.2 L357 388.2 L363.1 395.9 L367.9 402 L371.5 406.8 L374.3 410.7 L376.5 414.1 L378.5 417.5 L380.5 421.5 L382.9 426.7 L385.5 432.6 L387.8 438.6 L390 444.8 L392.1 451.2 L394 458 L395.7 465.1 L397.3 472.6 L398.7 480.6 L399.9 489.2 L401 498.6 L401.8 508.7 L402.5 519.1 L403.1 529.8 L403.6 540.4 L404.1 550.8 L404.5 560.7 L404.9 570.5 L405.1 580.7 L405.3 591.1 L405.4 601.2 L405.4 610.8 L405.4 619.3 L405.5 626.6 L405.5 632.1 L438.5 631.9 L438.5 626.4 L438.4 619.3 L438.4 610.7 L438.4 601 L438.3 590.7 L438.1 580.1 L437.9 569.5 L437.5 559.3 L437 549.3 L436.6 538.9 L436.1 528.1 L435.5 517.1 L434.7 506.2 L433.8 495.5 L432.7 485.1 L431.3 475.4 L429.7 466.3 L427.9 457.8 L425.9 449.6 L423.7 441.8 L421.3 434.3 L418.7 427 L416 420 L413.1 413.3 L410.2 407.2 L407.5 401.8 L404.7 396.8 L401.5 392 L398 387.2 L394 381.8 L389 375.5 L383 367.8 L375 357.7 L365.2 345.4 L354.1 331.6 L342.4 317.3 L330.7 303.2 L319.6 290.2 L309.8 279 L301.7 270.4 L295.2 264.3 L289.3 259.7 L282.7 256.3 L273.7 255 L265.2 257.6 L260.8 260.7 L259.6 261.8 L258.5 262.5 L255 265.1 L251.1 269.4 L248.1 273.7 L245.8 278.1 L243.9 282.6 L242.3 287.2 L241 291.8 L239.9 296.3 L239.1 300.1 L238.5 303.4 L238 307 L237.8 310.9 L237.7 315.3 L237.6 321.1 L237.6 329 L237.5 339.9 L237.4 353.8 L237.4 370.3 L237.4 388.9 L237.4 409.3 L237.4 430.9 L237.5 453.6 L237.5 476.7 L237.5 500 L237.5 525.5 L237.5 554.3 L237.5 585 L237.5 616 L237.5 645.7 L237.5 672.7 L237.5 695.3 L237.5 712Z" style="fill:#fff;stroke:none"/><path d="M270.5 712 L270.5 695.3 L270.5 672.7 L270.5 645.7 L270.5 616 L270.5 585 L270.5 554.3 L270.5 525.5 L270.5 500 L270.5 476.7 L270.5 453.5 L270.4 430.9 L270.4 409.2 L270.4 388.9 L270.4 370.4 L270.4 354 L270.5 340.1 L270.6 329.3 L270.6 321.3 L270.7 315.7 L270.7 312.1 L270.9 310.1 L271 308.7 L271.4 306.7 L272.1 303.7 L272.9 300.2 L273.8 297.1 L274.7 294.4 L275.7 292.1 L276.5 290.5 L277.1 289.7 L276.9 289.8 L277.5 289.5 L280.1 287.6 L282.1 285.9 L280.8 286.6 L275.8 288 L271.4 287.4 L271 287.2 L273.6 289.2 L278.3 293.6 L285.3 301.1 L294.6 311.7 L305.4 324.4 L316.9 338.2 L328.4 352.4 L339.4 366 L349.2 378.2 L357 388.2 L363.1 395.9 L367.9 402 L371.5 406.8 L374.3 410.7 L376.5 414.1 L378.5 417.5 L380.5 421.5 L382.9 426.7 L385.5 432.6 L387.8 438.6 L390 444.8 L392.1 451.2 L394 458 L395.7 465.1 L397.3 472.6 L398.7 480.6 L399.9 489.2 L401 498.6 L401.8 508.7 L402.5 519.1 L403.1 529.8 L403.6 540.4 L404.1 550.8 L404.5 560.7 L404.9 570.5 L405.1 580.7 L405.3 591.1 L405.4 601.2 L405.4 610.8 L405.4 619.3 L405.5 626.6 L405.5 632.1"/><path d="M237.5 712 L237.5 695.3 L237.5 672.7 L237.5 645.7 L237.5 616 L237.5 585 L237.5 554.3 L237.5 525.5 L237.5 500 L237.5 476.7 L237.5 453.6 L237.4 430.9 L237.4 409.3 L237.4 388.9 L237.4 370.3 L237.4 353.8 L237.5 339.9 L237.6 329 L237.6 321.1 L237.7 315.3 L237.8 310.9 L238 307 L238.5 303.4 L239.1 300.1 L239.9 296.3 L241 291.8 L242.3 287.2 L243.9 282.6 L245.8 278.1 L248.1 273.7 L251.1 269.4 L255 265.1 L258.5 262.5 L259.6 261.8 L260.8 260.7 L265.2 257.6 L273.7 255 L282.7 256.3 L289.3 259.7 L295.2 264.3 L301.7 270.4 L309.8 279 L319.6 290.2 L330.7 303.2 L342.4 317.3 L354.1 331.6 L365.2 345.4 L375 357.7 L383 367.8 L389 375.5 L394 381.8 L398 387.2 L401.5 392 L404.7 396.8 L407.5 401.8 L410.2 407.2 L413.1 413.3 L416 420 L418.7 427 L421.3 434.3 L423.7 441.8 L425.9 449.6 L427.9 457.8 L429.7 466.3 L431.3 475.4 L432.7 485.1 L433.8 495.5 L434.7 506.2 L435.5 517.1 L436.1 528.1 L436.6 538.9 L437 549.3 L437.5 559.3 L437.9 569.5 L438.1 580.1 L438.3 590.7 L438.4 601 L438.4 610.7 L438.4 619.3 L438.5 626.4 L438.5 631.9"/><path d="M104.5 568 L104.5 546.6 L104.5 517.4 L104.5 482.6 L104.5 444.3 L104.5 404.7 L104.5 366 L104.5 330.4 L104.5 300 L104.5 273.5 L104.4 248.2 L104.3 224.5 L104.2 202.4 L104.2 182.2 L104.2 164.2 L104.3 148.5 L104.5 135.3 L104.8 125.5 L105 119.1 L105.3 116 L105.2 116.4 L103.1 120.7 L101.6 122.5 L104.9 118.8 L106.9 115 L107.9 112.7 L108.5 111.7 L108.8 111.1 L108.9 111 L108.3 111.5 L106.7 112.5 L104 113.3 L101.8 113.5 L101.3 113.4 L100.9 113.3 L99.9 112.8 L99.5 112.5 L99.9 113 L101.3 114.5 L103.5 117.3 L106.4 121.3 L110 126.8 L114.4 133.9 L119.3 142.2 L124.6 151.2 L130 160.6 L135.5 170.1 L140.7 179.4 L145.6 188 L150.2 196.3 L154.6 204.7 L159.1 213.1 L163.5 221.6 L167.9 229.9 L172.2 238.1 L176.5 245.9 L180.8 253.3 L184.8 260.2 L188.7 266.6 L192.5 272.7 L196.3 278.6 L200.2 284.3 L204.1 289.8 L208.1 295.2 L212.4 300.6 L217.1 305.9 L222 310.7 L226.7 314.8 L231.1 318.4 L235.1 321.8 L238.6 325.1 L241.8 328.3 L244.9 332.1 L248.2 336.6 L251.6 341.6 L254.9 346.9 L258.1 352.4 L261.3 358.1 L264.3 364 L267.1 370 L269.7 376.2 L272.2 382.5 L274.5 389.1 L276.6 396 L278.7 403 L280.6 410.3 L282.4 417.8 L284.2 425.5 L285.8 433.3 L287.4 441.3 L288.8 449.5 L290.1 458 L291.3 466.7 L292.5 475.5 L293.6 484.4 L294.6 493.2 L295.6 501.8 L296.6 510.7 L297.5 520.3 L298.4 530.1 L299.2 539.7 L299.9 548.9 L300.6 557.1 L301.1 564.1 L301.6 569.4 L334.4 566.6 L334 561.4 L333.5 554.5 L332.8 546.3 L332.1 537 L331.2 527.2 L330.4 517.2 L329.4 507.4 L328.4 498.2 L327.4 489.4 L326.3 480.4 L325.2 471.4 L324 462.3 L322.8 453.2 L321.4 444.2 L319.8 435.3 L318.2 426.7 L316.4 418.4 L314.5 410.2 L312.6 402.2 L310.5 394.2 L308.2 386.4 L305.8 378.7 L303.1 371.2 L300.3 363.8 L297.2 356.6 L293.9 349.6 L290.5 342.7 L286.9 336.1 L283.1 329.7 L279.2 323.6 L275.3 317.7 L271.1 311.9 L266.4 306.3 L261.6 301.3 L256.8 297 L252.3 293.2 L248.1 289.7 L244.4 286.4 L240.9 283.1 L237.6 279.4 L234.2 275.1 L230.8 270.4 L227.3 265.6 L223.9 260.5 L220.4 255.1 L216.8 249.3 L213.1 243.2 L209.2 236.7 L205.3 229.8 L201.2 222.4 L197.1 214.5 L192.7 206.3 L188.3 197.8 L183.8 189.2 L179.1 180.5 L174.4 172 L169.4 163.2 L164.2 153.8 L158.7 144.2 L153.1 134.6 L147.7 125.3 L142.6 116.8 L137.8 109.1 L133.6 102.7 L130 97.6 L126.7 93.3 L123.4 89.7 L119.9 86.6 L115.9 84 L111.7 82.1 L108 81.1 L104.2 80.5 L98.6 80.7 L92.6 82.6 L88 85.5 L84.5 88.7 L81.9 92 L79.8 95.3 L78.1 98.6 L77.1 101 L77.4 100.5 L79.2 98.3 L76.6 101.1 L73.5 107.3 L72.5 112.1 L72.1 117.2 L71.8 124.4 L71.5 134.7 L71.3 148.2 L71.2 164.1 L71.2 182.3 L71.3 202.5 L71.3 224.6 L71.4 248.3 L71.5 273.5 L71.5 300 L71.5 330.4 L71.5 366 L71.5 404.7 L71.5 444.3 L71.5 482.6 L71.5 517.4 L71.5 546.6 L71.5 568Z" style="fill:#fff;stroke:none"/><path d="M104.5 568 L104.5 546.6 L104.5 517.4 L104.5 482.6 L104.5 444.3 L104.5 404.7 L104.5 366 L104.5 330.4 L104.5 300 L104.5 273.5 L104.4 248.2 L104.3 224.5 L104.2 202.4 L104.2 182.2 L104.2 164.2 L104.3 148.5 L104.5 135.3 L104.8 125.5 L105 119.1 L105.3 116 L105.2 116.4 L103.1 120.7 L101.6 122.5 L104.9 118.8 L106.9 115 L107.9 112.7 L108.5 111.7 L108.8 111.1 L108.9 111 L108.3 111.5 L106.7 112.5 L104 113.3 L101.8 113.5 L101.3 113.4 L100.9 113.3 L99.9 112.8 L99.5 112.5 L99.9 113 L101.3 114.5 L103.5 117.3 L106.4 121.3 L110 126.8 L114.4 133.9 L119.3 142.2 L124.6 151.2 L130 160.6 L135.5 170.1 L140.7 179.4 L145.6 188 L150.2 196.3 L154.6 204.7 L159.1 213.1 L163.5 221.6 L167.9 229.9 L172.2 238.1 L176.5 245.9 L180.8 253.3 L184.8 260.2 L188.7 266.6 L192.5 272.7 L196.3 278.6 L200.2 284.3 L204.1 289.8 L208.1 295.2 L212.4 300.6 L217.1 305.9 L222 310.7 L226.7 314.8 L231.1 318.4 L235.1 321.8 L238.6 325.1 L241.8 328.3 L244.9 332.1 L248.2 336.6 L251.6 341.6 L254.9 346.9 L258.1 352.4 L261.3 358.1 L264.3 364 L267.1 370 L269.7 376.2 L272.2 382.5 L274.5 389.1 L276.6 396 L278.7 403 L280.6 410.3 L282.4 417.8 L284.2 425.5 L285.8 433.3 L287.4 441.3 L288.8 449.5 L290.1 458 L291.3 466.7 L292.5 475.5 L293.6 484.4 L294.6 493.2 L295.6 501.8 L296.6 510.7 L297.5 520.3 L298.4 530.1 L299.2 539.7 L299.9 548.9 L300.6 557.1 L301.1 564.1 L301.6 569.4"/><path d="M71.5 568 L71.5 546.6 L71.5 517.4 L71.5 482.6 L71.5 444.3 L71.5 404.7 L71.5 366 L71.5 330.4 L71.5 300 L71.5 273.5 L71.4 248.3 L71.3 224.6 L71.3 202.5 L71.2 182.3 L71.2 164.1 L71.3 148.2 L71.5 134.7 L71.8 124.4 L72.1 117.2 L72.5 112.1 L73.5 107.3 L76.6 101.1 L79.2 98.3 L77.4 100.5 L77.1 101 L78.1 98.6 L79.8 95.3 L81.9 92 L84.5 88.7 L88 85.5 L92.6 82.6 L98.6 80.7 L104.2 80.5 L108 81.1 L111.7 82.1 L115.9 84 L119.9 86.6 L123.4 89.7 L126.7 93.3 L130 97.6 L133.6 102.7 L137.8 109.1 L142.6 116.8 L147.7 125.3 L153.1 134.6 L158.7 144.2 L164.2 153.8 L169.4 163.2 L174.4 172 L179.1 180.5 L183.8 189.2 L188.3 197.8 L192.7 206.3 L197.1 214.5 L201.2 222.4 L205.3 229.8 L209.2 236.7 L213.1 243.2 L216.8 249.3 L220.4 255.1 L223.9 260.5 L227.3 265.6 L230.8 270.4 L234.2 275.1 L237.6 279.4 L240.9 283.1 L244.4 286.4 L248.1 289.7 L252.3 293.2 L256.8 297 L261.6 301.3 L266.4 306.3 L271.1 311.9 L275.3 317.7 L279.2 323.6 L283.1 329.7 L286.9 336.1 L290.5 342.7 L293.9 349.6 L297.2 356.6 L300.3 363.8 L303.1 371.2 L305.8 378.7 L308.2 386.4 L310.5 394.2 L312.6 402.2 L314.5 410.2 L316.4 418.4 L318.2 426.7 L319.8 435.3 L321.4 444.2 L322.8 453.2 L324 462.3 L325.2 471.4 L326.3 480.4 L327.4 489.4 L328.4 498.2 L329.4 507.4 L330.4 517.2 L331.2 527.2 L332.1 537 L332.8 546.3 L333.5 554.5 L334 561.4 L334.4 566.6"/><path d="M283 440 C284.2 450 288.5 480 290 500 C291.5 520 291.7 550 292 560" class="t"/><path d="M260 572 L260 612 L285 628 L335 628 L360 610 L360 572" class="w"/><ellipse cx="310" cy="572" rx="50" ry="15" class="w"/><path d="M290 566 C294.7 568.3 309.7 580 318 580 C326.3 580 336.3 568.3 340 566"/><path d="M285 590 L285 628 M335 590 L335 628"/><path d="M260 600 Q310 625 360 598"/><path d="M277 628 L277 695 Q310 708 343 695 L343 628" class="w"/><path d="M277 640 Q310 653 343 640"/><path d="M277 654 Q310 667 343 654"/><path d="M277 668 Q310 681 343 668"/><path d="M277 682 Q310 695 343 682"/><path d="M365 637 L365 678 L390 695 L445 695 L471 676 L471 637" class="w"/><ellipse cx="418" cy="637" rx="53" ry="15" class="w"/><path d="M398 630 C402 632.5 414 645 422 645 C430 645 442 632.5 446 630"/><path d="M390 655 L390 695 M445 655 L445 695"/><path d="M365 665 Q418 692 471 663"/><path d="M385 695 L385 785 Q418 798 451 785 L451 695" class="w"/><path d="M385 710 Q418 723 451 710"/><path d="M385 725 Q418 738 451 725"/><path d="M385 740 Q418 753 451 740"/><path d="M385 755 Q418 768 451 755"/><path d="M385 770 Q418 783 451 770"/></g>
<g transform="translate(40 235) scale(0.13029)"><path d="M72 212 L72 352 A156 66 0 0 0 384 340 L384 212" class="w"/><ellipse cx="228" cy="208" rx="156" ry="66" class="w"/><ellipse cx="228" cy="207" rx="138" ry="56" class="l"/><ellipse cx="228" cy="207" rx="116" ry="46" class="l"/><ellipse cx="228" cy="207" rx="94" ry="36" class="l"/><ellipse cx="228" cy="207" rx="70" ry="26" class="l"/><ellipse cx="228" cy="206" rx="40" ry="15"/><path d="M86 262 L86 352 Q91 360 97 352 L97 264"/><path d="M135 285 L135 392 Q146 400 158 392 L158 287"/><path d="M215 292 L215 404 Q230 412 245 404 L245 294"/><path d="M310 280 L310 378 Q325 386 340 378 L340 282"/><path d="M368 255 L368 340 Q373 348 378 340 L378 257"/><path d="M125 590 L137 642 A92 30 0 0 0 320 642 L332 590" class="w"/><ellipse cx="228" cy="540" rx="125" ry="70" class="w"/><ellipse cx="228" cy="543" rx="97" ry="50"/><path d="M106 560 A125 70 0 0 0 350 560" class="t"/><ellipse cx="228" cy="548" rx="8" ry="6" class="k"/></g>
<g transform="translate(30 320) scale(0.14658)"><path d="M176 160 L186 215 A85 30 0 0 0 356 215 L364 160" class="w"/><ellipse cx="270" cy="115" rx="108" ry="65" class="w"/><ellipse cx="270" cy="118" rx="84" ry="47"/><ellipse cx="270" cy="132" rx="60" ry="30"/><ellipse cx="270" cy="142" rx="40" ry="17" class="t"/><path d="M165 135 A108 65 0 0 0 375 135" class="t"/><path d="M150 400 L150 462 L195 490 L195 690 L165 655 L175 700 A110 35 0 0 0 388 690 L388 470 L400 462 L400 400 Z" class="w"/><path d="M195 690 A95 28 0 0 0 388 678" class="t"/><ellipse cx="275" cy="400" rx="125" ry="70" class="w"/><ellipse cx="275" cy="400" rx="106" ry="56"/><path d="M150 422 A125 70 0 0 0 400 422"/><path d="M150 442 A125 70 0 0 0 400 442"/><path d="M150 462 A125 70 0 0 0 400 462"/><path d="M300 500 L300 675 M375 480 L375 680" class="t"/><path d="M197 522 L230 545 L265 530 M230 545 L230 620 M200 625 L282 642 L282 618 L232 603 M197 600 L232 620"/><path d="M205 505 C195.8 506.7 168.3 508.3 150 515 C131.7 521.7 108.7 530.8 95 545 C81.3 559.2 69.7 580.8 68 600 C66.3 619.2 74.7 646.3 85 660 C95.3 673.7 115 681.7 130 682 C145 682.3 163.8 670.7 175 662 C186.2 653.3 193.3 635.3 197 630" class="w"/><path d="M150 515 C145 517.2 130.8 518.8 120 528 C109.2 537.2 90.8 563 85 570" class="t"/><ellipse cx="148" cy="605" rx="28" ry="47" transform="rotate(20 148 605)" class="w"/><path d="M160 565 C156.7 569.2 144.2 580 140 590 C135.8 600 133.3 615.3 135 625 C136.7 634.7 147.5 644.2 150 648" class="t"/><path d="M390 548 L432 522 L440 508 L470 512 Q495 540 478 585 L452 592 L445 580 L405 605" class="w"/><path d="M440 508 Q425 550 452 592 M432 522 Q424 550 445 580"/><ellipse cx="476" cy="548" rx="12" ry="36" transform="rotate(-12 476 548)"/></g>
<g transform="translate(0 360) scale(0.21173)"><path d="M89.2 152.2 L144.2 178.2 L155.8 153.8 L100.8 127.8Z" style="fill:#fff;stroke:none"/><path d="M89.2 152.2 L144.2 178.2"/><path d="M100.8 127.8 L155.8 153.8"/><path d="M0 -13.5 A4 13.5 0 0 1 0 13.5" transform="translate(101.2 142.9) rotate(25.3)" class="t"/><path d="M0 -13.5 A4 13.5 0 0 1 0 13.5" transform="translate(111.6 147.8) rotate(25.3)" class="t"/><path d="M0 -13.5 A4 13.5 0 0 1 0 13.5" transform="translate(122 152.8) rotate(25.3)" class="t"/><path d="M0 -13.5 A4 13.5 0 0 1 0 13.5" transform="translate(132.4 157.7) rotate(25.3)" class="t"/><path d="M0 -13.5 A4 13.5 0 0 1 0 13.5" transform="translate(142.7 162.6) rotate(25.3)" class="t"/><ellipse cx="150" cy="166" rx="4" ry="13.5" transform="rotate(25.3 150 166)" class="w"/><path d="M52.7 143.9 L84.7 158.9 L103.3 119.1 L71.3 104.1Z" style="fill:#fff;stroke:none"/><path d="M52.7 143.9 L84.7 158.9"/><path d="M71.3 104.1 L103.3 119.1"/><ellipse cx="94" cy="139" rx="7" ry="22" transform="rotate(25 94 139)" class="w"/><ellipse cx="62" cy="124" rx="8" ry="22" transform="rotate(25 62 124)" class="w"/><path d="M72 109 L70 150 M82 113 L80 154" class="t"/><path d="M240 235 L412 323"/><path d="M407.9 340.4 L445.9 365.4 L470.1 328.6 L432.1 303.6Z" style="fill:#fff;stroke:none"/><path d="M407.9 340.4 L445.9 365.4"/><path d="M432.1 303.6 L470.1 328.6"/><ellipse cx="420" cy="322" rx="11" ry="22" transform="rotate(-32 420 322)" class="w"/><ellipse cx="429.5" cy="328.2" rx="11" ry="22" transform="rotate(-32 429.5 328.2)" class="t"/><ellipse cx="439" cy="334.5" rx="11" ry="22" transform="rotate(-32 439 334.5)" class="t"/><ellipse cx="448.5" cy="340.8" rx="11" ry="22" transform="rotate(-32 448.5 340.8)" class="t"/><ellipse cx="458" cy="347" rx="12" ry="22" transform="rotate(-32 458 347)" class="w"/><ellipse cx="459" cy="348" rx="7" ry="15" transform="rotate(-32 459 348)"/><path d="M488.9 385.7 L515.9 397.7 L528.1 370.3 L501.1 358.3Z" style="fill:#fff;stroke:none"/><path d="M488.9 385.7 L515.9 397.7"/><path d="M501.1 358.3 L528.1 370.3"/><ellipse cx="495" cy="372" rx="8" ry="15" transform="rotate(-25 495 372)" class="w"/><ellipse cx="520" cy="383" rx="11" ry="19" transform="rotate(-25 520 383)" class="w"/><ellipse cx="522" cy="384" rx="6" ry="12" transform="rotate(-25 522 384)"/></g>
<g transform="translate(100 470) scale(0.21173)"><path d="M500 80 C488.8 80 500 72.5 455 100 C410 127.5 292.5 195 230 245 C167.5 295 108 367.5 80 400 C52 432.5 64 427.5 62 440 C60 452.5 62.5 465 68 475 C73.5 485 88.3 486.7 95 500 C101.7 513.3 104.7 538.3 108 555 C111.3 571.7 109.7 590 115 600 C120.3 610 130 615 140 615 C150 615 165 609.2 175 600 C185 590.8 189.2 575 200 560 C210.8 545 225 524.2 240 510 C255 495.8 271.7 482.5 290 475 C308.3 467.5 335.8 463.8 350 465 C364.2 466.2 365.8 481.2 375 482 C384.2 482.8 395.8 478.7 405 470 C414.2 461.3 419.2 453.3 430 430 C440.8 406.7 458.3 366.7 470 330 C481.7 293.3 490.8 240 500 210 C509.2 180 521.3 168.3 525 150 C528.7 131.7 526.2 111.7 522 100 C517.8 88.3 511.2 80 500 80Z" class="w"/><path d="M497 93 L458 112 L237 257 L92 405 L76 440 L80 470"/><path d="M445 175 L430 170 L210 330 L195 360 L210 375 L300 355Z"/><path d="M432 185 L222 338 L212 360 L296 343" class="t"/><path d="M522 150 L280 440 L255 480"/><path d="M498 215 L355 455"/><path d="M300 400 L262 470" class="t"/><path d="M505 195 L300 395" class="t"/><ellipse cx="105" cy="432" rx="13" ry="20" transform="rotate(35 105 432)" class="w"/><ellipse cx="158" cy="570" rx="13" ry="20" transform="rotate(35 158 570)" class="w"/><ellipse cx="392" cy="452" rx="11" ry="17" transform="rotate(30 392 452)" class="w"/><path d="M98 418 C97.3 420.8 93 429.7 94 435 C95 440.3 102.3 447.5 104 450" class="t"/><path d="M151 556 C150.3 558.8 146 567.7 147 573 C148 578.3 155.3 585.5 157 588" class="t"/></g>
<path d="M125 561.4 L139 569.4 L226 520 L198 450.2 L212 457.5"/><path d="M219.1 461.9 L284 498.6"/><path d="M136.5 590.7 L149.8 598.2 L282.3 523 L300.3 532.8"/><g transform="translate(100 420) scale(0.13029)"><path d="M425 498 L265 518 L205 548 L158 585 L165 602 L265 590 L275 560 L440 542 Z" class="w"/><path d="M432 518 L270 536 L172 590"/><path d="M440 542 L275 560 L268 590" class="t"/><path d="M215 545 L237 525" class="t"/><path d="M245 541 L267 522" class="t"/><path d="M275 538 L297 519" class="t"/><path d="M305 534 L327 516" class="t"/><path d="M335 531 L357 513" class="t"/><path d="M365 527 L387 510" class="t"/><path d="M395 524 L417 507" class="t"/><path d="M155 588 L150 720 Q153 750 185 756 L225 752 Q262 722 268 680 L266 590" class="w"/><path d="M165 600 L160 722 Q166 742 188 746" class="t"/><ellipse cx="215" cy="695" rx="17" ry="25" transform="rotate(25 215 695)"/><ellipse cx="217" cy="696" rx="9" ry="15" transform="rotate(25 217 696)" class="t"/><path d="M420 152 L432 128 L505 88 L548 100 L550 128 L500 152 L520 200 L520 318 L535 320 L535 440 L522 528 L440 540 L425 510 L425 425 L440 380 L465 230 L460 190 Z" class="w"/><path d="M432 160 L475 202 L478 235 L455 382 L440 427 L440 512" class="t"/><path d="M432 128 L440 150 L500 118 L548 128 M440 150 L470 185"/><ellipse cx="497" cy="420" rx="33" ry="38" transform="rotate(20 497 420)" class="w"/><ellipse cx="500" cy="421" rx="20" ry="25" transform="rotate(20 500 421)"/><ellipse cx="502" cy="422" rx="11" ry="15" transform="rotate(20 502 422)" class="t"/></g>
<g transform="translate(195 430) scale(0.13029)"><path d="M100 255 L115 300 L245 385 L295 385 L320 350 L435 170 L425 158 L410 165 L300 340 L275 365 L250 365 L140 290 L130 265Z" class="w"/><path d="M118 285 L250 375 L285 375 L422 163" class="t"/><path d="M125 137 C129.5 128.7 135.8 125.3 140 130 C144.2 134.7 144.2 155.8 150 165 C155.8 174.2 169.7 176.7 175 185 C180.3 193.3 183.7 205 182 215 C180.3 225 173.7 236.5 165 245 C156.3 253.5 140 264.2 130 266 C120 267.8 110.3 262.8 105 256 C99.7 249.2 96.7 237.7 98 225 C99.3 212.3 108.5 194.7 113 180 C117.5 165.3 120.5 145.3 125 137Z" class="w"/><ellipse cx="147" cy="215" rx="14" ry="18" transform="rotate(20 147 215)"/><ellipse cx="149" cy="216" rx="7" ry="10" transform="rotate(20 149 216)" class="t"/></g>
<g transform="translate(40 480) scale(0.13029)"><path d="M140 64 L109 72 L94 94 L94 125 L112 153 L140 170 Z" class="w"/><path d="M109 72 L118 100 L94 125 M118 100 L145 104 M112 153 L122 128" class="t"/><ellipse cx="152" cy="121" rx="34" ry="52" transform="rotate(-18 152 121)" class="w"/><ellipse cx="160" cy="123" rx="34" ry="52" transform="rotate(-18 160 123)" class="w"/><ellipse cx="163" cy="124" rx="24" ry="38" transform="rotate(-18 163 124)" class="t"/><path d="M155.1 148.6 L227.1 189.6 L252.9 144.4 L180.9 103.4Z" style="fill:#fff;stroke:none"/><path d="M155.1 148.6 L227.1 189.6"/><path d="M180.9 103.4 L252.9 144.4"/><path d="M0 -26 A7.3 26 0 0 1 0 26" transform="translate(174.9 129.9) rotate(29.7)" class="t"/><path d="M0 -26 A7.3 26 0 0 1 0 26" transform="translate(186.3 136.4) rotate(29.7)" class="t"/><path d="M0 -26 A7.3 26 0 0 1 0 26" transform="translate(197.7 142.9) rotate(29.7)" class="t"/><path d="M0 -26 A7.3 26 0 0 1 0 26" transform="translate(209.1 149.4) rotate(29.7)" class="t"/><path d="M0 -26 A7.3 26 0 0 1 0 26" transform="translate(220.6 155.9) rotate(29.7)" class="t"/><path d="M0 -26 A7.3 26 0 0 1 0 26" transform="translate(232 162.4) rotate(29.7)" class="t"/><ellipse cx="240" cy="167" rx="7.3" ry="26" transform="rotate(29.7 240 167)" class="w"/><path d="M289.1 463.6 L397.1 513.6 L418.9 466.4 L310.9 416.4Z" style="fill:#fff;stroke:none"/><path d="M289.1 463.6 L397.1 513.6"/><path d="M310.9 416.4 L418.9 466.4"/><path d="M0 -26 A7.3 26 0 0 1 0 26" transform="translate(310.3 444.8) rotate(24.8)" class="t"/><path d="M0 -26 A7.3 26 0 0 1 0 26" transform="translate(327.4 452.7) rotate(24.8)" class="t"/><path d="M0 -26 A7.3 26 0 0 1 0 26" transform="translate(344.6 460.6) rotate(24.8)" class="t"/><path d="M0 -26 A7.3 26 0 0 1 0 26" transform="translate(361.7 468.6) rotate(24.8)" class="t"/><path d="M0 -26 A7.3 26 0 0 1 0 26" transform="translate(378.9 476.5) rotate(24.8)" class="t"/><path d="M0 -26 A7.3 26 0 0 1 0 26" transform="translate(396 484.4) rotate(24.8)" class="t"/><ellipse cx="408" cy="490" rx="7.3" ry="26" transform="rotate(24.8 408 490)" class="w"/><path d="M244.6 454.9 L294.6 479.9 L329.4 410.1 L279.4 385.1Z" style="fill:#fff;stroke:none"/><path d="M244.6 454.9 L294.6 479.9"/><path d="M279.4 385.1 L329.4 410.1"/><ellipse cx="312" cy="445" rx="11" ry="39" transform="rotate(25 312 445)" class="w"/><ellipse cx="262" cy="418" rx="36" ry="78" transform="rotate(22 262 418)" class="w"/><ellipse cx="250" cy="415" rx="36" ry="78" transform="rotate(22 250 415)" class="w"/><path d="M228 360 C226.3 370 215.2 400 218 420 C220.8 440 240.5 470 245 480" class="t"/><path d="M339.1 653.6 L447.1 703.6 L468.9 656.4 L360.9 606.4Z" style="fill:#fff;stroke:none"/><path d="M339.1 653.6 L447.1 703.6"/><path d="M360.9 606.4 L468.9 656.4"/><path d="M0 -26 A7.3 26 0 0 1 0 26" transform="translate(360.3 634.8) rotate(24.8)" class="t"/><path d="M0 -26 A7.3 26 0 0 1 0 26" transform="translate(377.4 642.7) rotate(24.8)" class="t"/><path d="M0 -26 A7.3 26 0 0 1 0 26" transform="translate(394.6 650.6) rotate(24.8)" class="t"/><path d="M0 -26 A7.3 26 0 0 1 0 26" transform="translate(411.7 658.6) rotate(24.8)" class="t"/><path d="M0 -26 A7.3 26 0 0 1 0 26" transform="translate(428.9 666.5) rotate(24.8)" class="t"/><path d="M0 -26 A7.3 26 0 0 1 0 26" transform="translate(446 674.4) rotate(24.8)" class="t"/><ellipse cx="458" cy="680" rx="7.3" ry="26" transform="rotate(24.8 458 680)" class="w"/><path d="M294.6 644.9 L344.6 669.9 L379.4 600.1 L329.4 575.1Z" style="fill:#fff;stroke:none"/><path d="M294.6 644.9 L344.6 669.9"/><path d="M329.4 575.1 L379.4 600.1"/><ellipse cx="362" cy="635" rx="11" ry="39" transform="rotate(25 362 635)" class="w"/><ellipse cx="312" cy="608" rx="36" ry="78" transform="rotate(22 312 608)" class="w"/><ellipse cx="300" cy="605" rx="36" ry="78" transform="rotate(22 300 605)" class="w"/><path d="M278 550 C276.3 560 265.2 590 268 610 C270.8 630 290.5 660 295 670" class="t"/></g>
<g transform="translate(265 325) scale(0.16287)"><path d="M170 213 L245 180 Q262 120 310 80 Q350 50 400 70 Q440 95 460 170 L497 285 L490 300 L512 365 Q500 395 470 395 Q445 392 438 380 L415 325 L405 315 L362 222 Q340 235 310 248 L300 256 L175 298 Z" class="w"/><ellipse cx="172" cy="256" rx="27" ry="43" transform="rotate(-15 172 256)" class="w"/><ellipse cx="174" cy="256" rx="17" ry="30" transform="rotate(-15 174 256)"/><path d="M243 178 C248.3 176.7 265.5 167.2 275 170 C284.5 172.8 294.2 185 300 195 C305.8 205 310 219.5 310 230 C310 240.5 301.7 253.3 300 258"/><path d="M262 168 C267.5 168.3 285.7 163.8 295 170 C304.3 176.2 313.5 193.3 318 205 C322.5 216.7 321.3 234.2 322 240" class="t"/><path d="M355 218 C360 211.7 375.5 191.8 385 180 C394.5 168.2 407.5 152.5 412 147"/><path d="M405 315 C411.7 315.8 429.7 325 445 320 C460.3 315 488.3 290.8 497 285"/><path d="M415 325 C421.7 325.5 442.5 332.2 455 328 C467.5 323.8 484.2 304.7 490 300" class="t"/></g>
<g transform="translate(265 325) scale(0.16287)"><path d="M63 255 L108 250 Q136 265 134 300 Q128 330 110 336 L66 339 Z" class="w"/><ellipse cx="63" cy="297" rx="22" ry="42" transform="rotate(10 63 297)" class="w"/><path d="M98 252 C101.3 257.5 117 271 118 285 C119 299 106.3 327.5 104 336" class="t"/><path d="M70 262 C72.3 267.5 83.3 283.3 84 295 C84.7 306.7 75.7 325.8 74 332" class="t"/><path d="M99 338 L105 370 Q115 381 125 370 L129 330" class="w"/><path d="M28 320 L50 326 L46 340 L26 333 Z" class="w"/><path d="M546 436 C548.3 441.5 560.7 458.5 560 469 C559.3 479.5 550 492 542 499 C534 506 521.5 510.8 512 511 C502.5 511.2 492.7 506.8 485 500 C477.3 493.2 469.2 475 466 470" class="w"/><ellipse cx="505" cy="436" rx="41" ry="30" transform="rotate(-5 505 436)" class="w"/><path d="M470 452 C475 450 489.2 441 500 440 C510.8 439 529.2 445 535 446" class="t"/><path d="M473 475 C473 471 464.5 462.5 458 460 C451.5 457.5 439.5 457.5 434 460 C428.5 462.5 425 470.5 425 475 C425 479.5 428.5 485.5 434 487 C439.5 488.5 451.5 486 458 484 C464.5 482 473 479 473 475Z" class="w"/><path d="M485 475 L497 511 L506 538 L515 532 L506 487" class="w"/><path d="M470 482 L492 512" class="t"/></g>
<g transform="translate(270 460) scale(0.14658)"><path d="M386.4 623.9 L411.4 703.9 L468.6 686.1 L443.6 606.1Z" style="fill:#fff;stroke:none"/><path d="M386.4 623.9 L411.4 703.9"/><path d="M443.6 606.1 L468.6 686.1"/><path d="M0 -30 A9 30 0 0 1 0 30" transform="translate(417.8 624.1) rotate(72.6)" class="t"/><path d="M0 -30 A9 30 0 0 1 0 30" transform="translate(422.5 639.2) rotate(72.6)" class="t"/><path d="M0 -30 A9 30 0 0 1 0 30" transform="translate(427.3 654.2) rotate(72.6)" class="t"/><path d="M0 -30 A9 30 0 0 1 0 30" transform="translate(432 669.3) rotate(72.6)" class="t"/><path d="M0 -30 A9 30 0 0 1 0 30" transform="translate(436.7 684.4) rotate(72.6)" class="t"/><ellipse cx="440" cy="695" rx="9" ry="30" transform="rotate(72.6 440 695)" class="w"/><path d="M325 555 L352 618 Q400 640 442 602 L445 520 Z" class="w"/><path d="M352 618 C359.2 620.3 380 634.7 395 632 C410 629.3 434.2 607 442 602" class="t"/><path d="M318 150 L375 123 Q425 120 460 158 Q494 195 492 240 Q470 285 425 335 L395 350 L350 235 Z" class="w"/><path d="M160 190 L200 232 L255 330 L270 440 L300 545 Q380 575 455 520 L450 440 L400 350 L350 232 L300 150 Q240 200 160 190 Z" class="w"/><path d="M222 232 C233.3 232 268.7 239 290 232 C311.3 225 340 197 350 190" class="t"/><path d="M245 340 C254.2 341.3 282.5 350.5 300 348 C317.5 345.5 336.3 333.3 350 325 C363.7 316.7 376.7 302.5 382 298"/><path d="M240 355 C250 356.7 280.8 367.5 300 365 C319.2 362.5 340.3 348.8 355 340 C369.7 331.2 382.5 316.7 388 312" class="t"/><path d="M285 490 C295.8 492.5 329.2 505.8 350 505 C370.8 504.2 394.2 493.3 410 485 C425.8 476.7 439.2 460 445 455"/><path d="M280 470 C290.8 472.5 324.2 485.8 345 485 C365.8 484.2 389.2 472.8 405 465 C420.8 457.2 434.2 442.5 440 438" class="t"/><path d="M400 350 C401.7 358.3 403.3 385 410 400 C416.7 415 435 433.3 440 440" class="t"/><path d="M153 115 L160 190 Q230 210 300 160 L278 110" class="w"/><ellipse cx="215" cy="115" rx="63" ry="50" transform="rotate(-15 215 115)" class="w"/><ellipse cx="213" cy="113" rx="40" ry="31" transform="rotate(-15 213 113)"/><ellipse cx="212" cy="112" rx="22" ry="17" transform="rotate(-15 212 112)" class="t"/><path d="M90 85 L105 70 L130 78 L130 110 L152 115 L138 138 L130 190 L105 195 L100 150 Z" class="w"/><path d="M105 100 L130 110 M100 150 L135 138" class="t"/><path d="M200 262 C189.2 248.7 166.7 238.7 150 240 C133.3 241.3 110.3 257.5 100 270 C89.7 282.5 85.5 301.7 88 315 C90.5 328.3 104.7 336.7 115 350 C125.3 363.3 142.5 378.3 150 395 C157.5 411.7 157.5 431.7 160 450 C162.5 468.3 159.7 489.7 165 505 C170.3 520.3 180.3 534.5 192 542 C203.7 549.5 221.7 552.3 235 550 C248.3 547.7 264.2 538 272 528 C279.8 518 283.7 504.7 282 490 C280.3 475.3 269 458.3 262 440 C255 421.7 247.8 400 240 380 C232.2 360 221.7 339.7 215 320 C208.3 300.3 210.8 275.3 200 262Z" class="w"/><ellipse cx="165" cy="305" rx="40" ry="48" transform="rotate(20 165 305)" class="w"/><ellipse cx="170" cy="308" rx="19" ry="25" transform="rotate(20 170 308)" class="b"/><ellipse cx="242" cy="500" rx="38" ry="45" transform="rotate(20 242 500)" class="w"/><ellipse cx="246" cy="502" rx="18" ry="23" transform="rotate(20 246 502)" class="b"/><path d="M128 290 C127 295 120 310.3 122 320 C124 329.7 137 343.3 140 348" class="t"/><path d="M206 485 C205.3 489.5 200 503.2 202 512 C204 520.8 215.3 533.7 218 538" class="t"/></g>
<path d="M295.2 463.5 L300.1 476"/><g transform="translate(325 405) scale(0.14658)"><ellipse cx="486" cy="133" rx="78" ry="84" transform="rotate(20 486 133)" class="w"/><ellipse cx="476" cy="139" rx="70" ry="77" transform="rotate(20 476 139)"/><ellipse cx="465" cy="145" rx="61" ry="69" transform="rotate(20 465 145)" class="w"/><ellipse cx="459" cy="156" rx="24" ry="28" transform="rotate(20 459 156)"/><ellipse cx="375" cy="245" rx="68" ry="52" transform="rotate(42 375 245)" class="w"/><ellipse cx="375" cy="247" rx="52" ry="38" transform="rotate(42 375 247)" class="w"/><ellipse cx="377" cy="250" rx="60" ry="45" transform="rotate(42 377 250)" class="t"/><path d="M335 190 Q350 170 372 185 L385 200" class="w"/><path d="M218 190 L228 225 L262 262 L268 300 L245 338 L275 368 L305 345 L318 300 L300 240 L282 190 Z" class="w"/><ellipse cx="249" cy="183" rx="32" ry="19" transform="rotate(15 249 183)" class="w"/><ellipse cx="252" cy="180" rx="12" ry="7" transform="rotate(15 252 180)" class="t"/><path d="M222 205 C226.7 207.8 239.3 222 250 222 C260.7 222 280 207.8 286 205" class="t"/><ellipse cx="212" cy="390" rx="74" ry="60" transform="rotate(-30 212 390)" class="w"/><ellipse cx="205" cy="396" rx="62" ry="50" transform="rotate(-30 205 396)" class="t"/><ellipse cx="192" cy="418" rx="47" ry="40" transform="rotate(-30 192 418)" class="w"/><ellipse cx="190" cy="424" rx="29" ry="25" transform="rotate(-30 190 424)"/><ellipse cx="189" cy="427" rx="14" ry="12" transform="rotate(-30 189 427)" class="t"/><ellipse cx="125" cy="495" rx="55" ry="42" transform="rotate(38 125 495)" style="stroke-width:2.2"/></g>
<g transform="translate(315 555) scale(0.14658)"><path d="M123 135 L130 170 L160 190 L205 186 L232 160 L232 128 Z" class="w"/><ellipse cx="178" cy="130" rx="56" ry="34" transform="rotate(-15 178 130)" class="w"/><ellipse cx="172" cy="130" rx="28" ry="16" transform="rotate(-15 172 130)"/><ellipse cx="170" cy="131" rx="13" ry="8" transform="rotate(-15 170 131)" class="t"/><path d="M160 162 L160 190 M205 160 L205 186" class="t"/><path d="M165 252 L172 290 L165 305 L215 420 Q230 455 262 465 Q300 462 318 440 Q335 400 325 340 L300 278 L272 268 L265 235 Z" class="w"/><ellipse cx="215" cy="240" rx="50" ry="32" transform="rotate(-12 215 240)" class="w"/><ellipse cx="213" cy="238" rx="25" ry="16" transform="rotate(-12 213 238)"/><path d="M172 290 C179.2 292 198.3 305.7 215 302 C231.7 298.3 262.5 273.7 272 268" class="t"/><path d="M165 305 C175 307.8 202.5 326.5 225 322 C247.5 317.5 287.5 285.3 300 278"/><path d="M210 355 L255 345 L292 440 M210 355 L245 445 M225 352 L262 448" class="t"/><ellipse cx="313" cy="400" rx="13" ry="20" transform="rotate(-15 313 400)" class="w"/><ellipse cx="285" cy="322" rx="9" ry="12" transform="rotate(-15 285 322)" class="t"/></g>
<g transform="translate(235 575) scale(0.09772)"><path d="M118 150 L122 300 L140 312 L158 295 L166 145" class="w"/><ellipse cx="143" cy="135" rx="27" ry="18" transform="rotate(-10 143 135)" class="w"/><ellipse cx="145" cy="133" rx="10" ry="6" transform="rotate(-10 145 133)" class="t"/><path d="M140 155 L140 308" class="t"/><ellipse cx="342" cy="336" rx="63" ry="88" transform="rotate(25 342 336)" class="w"/><ellipse cx="360" cy="330" rx="63" ry="88" transform="rotate(25 360 330)" class="w"/><ellipse cx="358" cy="335" rx="25" ry="36" transform="rotate(25 358 335)"/><ellipse cx="357" cy="337" rx="12" ry="19" transform="rotate(25 357 337)" class="t"/></g>
<path d="M394.1 637.4 L407.3 644.3 L410.3 638.7 L397.1 631.8Z" style="fill:#fff;stroke:none"/><path d="M394.1 637.4 L407.3 644.3"/><path d="M397.1 631.8 L410.3 638.7"/><ellipse cx="395.6" cy="634.6" rx="1.5" ry="3.3" transform="rotate(26 395.6 634.6)" class="w"/><ellipse cx="409.4" cy="642" rx="3.6" ry="5.5" transform="rotate(22 409.4 642)" class="w"/><ellipse cx="411" cy="642.6" rx="3.6" ry="5.5" transform="rotate(22 411 642.6)" class="w"/><path d="M398.5 633 L401.5 634.4" class="t"/><path d="M368.8 668.3 C366.1 668.6 356.3 668.9 352.7 670.1 C349.1 671.3 348.8 673.3 347.3 675.5 C345.8 677.7 346.4 679.3 343.7 683.5 C341 687.7 335.4 695 331.2 700.5 C327 706 322.6 711.6 318.7 716.7 C314.8 721.8 311.2 727.5 307.9 731 C304.6 734.5 302.6 736 299 737.8 C295.4 739.6 292.6 739.9 286.6 741.7 C280.6 743.5 270.5 745.5 263.2 748.6 C255.9 751.7 246.1 758.3 242.7 760.3 L229 780.8 C230.2 780.8 232.6 782.5 236 781 C239.4 779.5 243.7 775.3 249.5 772 C255.3 768.7 264.2 763.7 271 761.3 C277.8 758.9 284.4 759.2 290.5 757.4 C296.6 755.6 302.9 753 307.9 750.4 C312.9 747.8 316.9 745.2 320.5 741.7 C324.1 738.2 326.7 732.2 329.4 729.2 C332.1 726.2 334.2 726.8 336.6 723.8 C339 720.8 341.3 714.6 343.7 711.3 C346.1 708 348 705.6 350.9 704.1 C353.8 702.6 359.1 702.6 360.8 702.3 Z" style="fill:#fff;stroke:none"/><path d="M368.8 668.3 C366.1 668.6 356.3 668.9 352.7 670.1 C349.1 671.3 348.8 673.3 347.3 675.5 C345.8 677.7 346.4 679.3 343.7 683.5 C341 687.7 335.4 695 331.2 700.5 C327 706 322.6 711.6 318.7 716.7 C314.8 721.8 311.2 727.5 307.9 731 C304.6 734.5 302.6 736 299 737.8 C295.4 739.6 292.6 739.9 286.6 741.7 C280.6 743.5 270.5 745.5 263.2 748.6 C255.9 751.7 246.1 758.3 242.7 760.3"/><path d="M360.8 702.3 C359.1 702.6 353.8 702.6 350.9 704.1 C348 705.6 346.1 708 343.7 711.3 C341.3 714.6 339 720.8 336.6 723.8 C334.2 726.8 332.1 726.2 329.4 729.2 C326.7 732.2 324.1 738.2 320.5 741.7 C316.9 745.2 312.9 747.8 307.9 750.4 C302.9 753 296.6 755.6 290.5 757.4 C284.4 759.2 277.8 758.9 271 761.3 C264.2 763.7 255.3 768.7 249.5 772 C243.7 775.3 239.4 779.5 236 781 C232.6 782.5 230.2 780.8 229 780.8"/><path d="M361.7 685.3 C359.9 686.3 354.2 688.5 350.9 691.6 C347.6 694.7 346.2 698.7 342 704.1 C337.8 709.5 330.6 718.1 325.8 723.8 C321 729.5 317.5 734.7 313.3 738.2 C309.1 741.7 304.8 743.2 300.7 744.8 C296.6 746.4 294.2 746.1 288.6 747.6 C283 749.1 273.6 751.2 267.1 753.5 C260.6 755.8 253.4 759.6 249.5 761.3 C245.6 763 244.6 763.4 243.6 763.8" class="t"/><path d="M199 752.6 L206 744 Q207.6 742.4 209.6 743.4 L242.7 760.3 L227 776 L229 780.8 L198.3 759.6 L197.6 755.2 Z" class="w"/><path d="M197.9 756 L227 776" class="t"/><path d="M198.1 757.8 L228 778.4" class="t"/><g transform="translate(290 645) scale(0.17915)"><path d="M440 132 C444.2 126.7 454.2 105.7 465 100 C475.8 94.3 494.2 93.8 505 98 C515.8 102.2 525.8 113.8 530 125 C534.2 136.2 533.7 152.8 530 165 C526.3 177.2 516.7 192.2 508 198 C499.3 203.8 483 199.7 478 200" class="w"/><ellipse cx="497" cy="152" rx="17" ry="25" transform="rotate(25 497 152)" class="w"/><ellipse cx="498" cy="153" rx="9" ry="15" transform="rotate(25 498 153)" class="t"/><ellipse cx="440" cy="257" rx="57" ry="70" transform="rotate(32 440 257)" class="w"/><ellipse cx="440" cy="257" rx="40" ry="52" transform="rotate(32 440 257)" class="b"/><ellipse cx="443" cy="260" rx="30" ry="42" transform="rotate(32 443 260)" class="t"/><path d="M385 290 C386.7 295 387.5 313.3 395 320 C402.5 326.7 424.2 328.3 430 330" class="t"/><path d="M312 351.7 L344 365.7 L356 338.3 L324 324.3Z" style="fill:#fff;stroke:none"/><path d="M312 351.7 L344 365.7"/><path d="M324 324.3 L356 338.3"/><ellipse cx="318" cy="338" rx="8" ry="15" transform="rotate(20 318 338)" class="w"/><ellipse cx="350" cy="352" rx="9" ry="15" transform="rotate(20 350 352)" class="w"/><path d="M204.6 456.4 L242.6 473.4 L257.4 440.6 L219.4 423.6Z" style="fill:#fff;stroke:none"/><path d="M204.6 456.4 L242.6 473.4"/><path d="M219.4 423.6 L257.4 440.6"/><ellipse cx="212" cy="440" rx="10" ry="18" transform="rotate(20 212 440)" class="w"/><ellipse cx="250" cy="457" rx="11" ry="18" transform="rotate(20 250 457)" class="w"/><path d="M290 350 C291.3 354.2 299.7 367.5 298 375 C296.3 382.5 286 392.2 280 395 C274 397.8 265 392.5 262 392" class="t"/><path d="M248 385 C248.7 388.3 248.3 400.5 252 405 C255.7 409.5 267 410.8 270 412" class="t"/></g>
<path d="M386.4 707.2 L386.4 756 L397.5 756 L397.5 707.2 Z" class="w"/><path d="M386.4 707.5 Q391.9 710.4 397.5 707.5" class="t"/><path d="M386.4 709.8 Q391.9 712.7 397.5 709.8" class="t"/><path d="M386.4 712.1 Q391.9 715 397.5 712.1" class="t"/><path d="M386.4 714.4 Q391.9 717.3 397.5 714.4" class="t"/><path d="M386.4 716.8 Q391.9 719.7 397.5 716.8" class="t"/><path d="M386.4 719.1 Q391.9 722 397.5 719.1" class="t"/><path d="M386.4 721.4 Q391.9 724.3 397.5 721.4" class="t"/><path d="M386.4 723.7 Q391.9 726.6 397.5 723.7" class="t"/><path d="M386.4 726.1 Q391.9 729 397.5 726.1" class="t"/><path d="M386.4 728.4 Q391.9 731.3 397.5 728.4" class="t"/><path d="M386.4 730.7 Q391.9 733.6 397.5 730.7" class="t"/><path d="M386.4 733 Q391.9 735.9 397.5 733" class="t"/><path d="M386.4 735.3 Q391.9 738.2 397.5 735.3" class="t"/><path d="M386.4 737.7 Q391.9 740.6 397.5 737.7" class="t"/><path d="M386.4 740 Q391.9 742.9 397.5 740" class="t"/><path d="M386.4 742.3 Q391.9 745.2 397.5 742.3" class="t"/><path d="M386.4 744.6 Q391.9 747.5 397.5 744.6" class="t"/><path d="M386.4 747 Q391.9 749.9 397.5 747" class="t"/><path d="M386.4 749.3 Q391.9 752.2 397.5 749.3" class="t"/><path d="M386.4 751.6 Q391.9 754.5 397.5 751.6" class="t"/><path d="M386.4 753.9 Q391.9 756.8 397.5 753.9" class="t"/><path d="M387.6 707.2 C387.9 705.9 388.3 701.1 389.3 699.5 C390.3 697.9 392.2 697.1 393.4 697.3 C394.6 697.5 396 698.7 396.6 700.6 C397.2 702.5 397 707.2 397.1 708.5"/><path d="M390.2 707 C390.4 706.1 390.7 702.7 391.2 701.5 C391.7 700.3 392.8 699.8 393.4 700 C394 700.2 394.5 701.3 394.8 702.5 C395.1 703.7 395 706.2 395 707" class="t"/><path d="M396 756 C395.7 757 395 760.5 394.1 761.9 C393.2 763.3 391.8 764.4 390.8 764.5 C389.8 764.6 388.6 762.7 388.2 762.3"/><path d="M394 756 C393.8 756.8 393.2 759.7 392.6 760.8 C392 761.9 390.9 762.1 390.6 762.4" class="t"/><path d="M416.4 722.8 L416.4 766 Q423.8 771.5 431.1 766 L431.1 722.8" class="w"/><ellipse cx="423.8" cy="722.8" rx="7.3" ry="4.2" class="w b"/><g transform="translate(20 725) scale(0.11401)"><path d="M125 365 L210 200 L240 232 L410 125 L440 145 L440 265 L245 375 L240 425Z" class="w b"/><path d="M210 200 L226 218 L140 372"/><path d="M226 218 L238 250"/><path d="M238 250 L425 145 L438 262"/><path d="M410 125 L425 145"/><path d="M238 250 L248 370" class="t"/><text transform="matrix(2.75 -1.55 -0.3 3.9 250 356)" font-size="30" font-weight="bold" font-style="italic" style="fill:#000;stroke:#000;stroke-width:1.3">FWD</text></g>
<g transform="translate(100 200) scale(0.08143)"><path d="M55 130 Q95 60 150 35 Q195 35 260 100 L320 160 Q372 140 430 190 Q485 245 500 300 L495 332 L440 380 L415 352 Q400 300 357 285 L335 312 L300 300 L262 300 L230 290 L190 190 Q150 165 155 200 L122 240 L95 228 L62 160 Z" class="w"/><path d="M62 152 C67.5 147.3 82 126 95 124 C108 122 124.2 130.7 140 140 C155.8 149.3 174.7 161.3 190 180 C205.3 198.7 225 240 232 252"/><path d="M75 155 Q110 145 140 170 Q155 185 155 200 M75 155 L95 228" class="t"/><path d="M300 215 C307.5 213.8 330.8 201.8 345 208 C359.2 214.2 371.7 235 385 252 C398.3 269 415.8 288.7 425 310 C434.2 331.3 437.5 368.3 440 380"/><path d="M290 250 L300 300 M357 285 Q350 255 322 232 M415 352 Q398 300 360 265" class="t"/><path d="M232 150 L265 172 L300 160 L320 185 L292 215 L300 250 L262 300 L230 290 L222 250 L250 215 Z" class="b"/><path d="M250 215 L292 215 M262 300 L270 250 M240 180 L262 200" class="b"/></g>
<g transform="translate(145 300) scale(0.09772)"><path d="M165 262 C167.2 270 169.7 295.3 178 310 C186.3 324.7 199.7 342.5 215 350 C230.3 357.5 254.2 359.7 270 355 C285.8 350.3 302 336.2 310 322 C318 307.8 316.7 278.7 318 270" class="w"/><ellipse cx="240" cy="240" rx="78" ry="52" transform="rotate(15 240 240)" class="w"/><ellipse cx="245" cy="240" rx="60" ry="38" transform="rotate(15 245 240)"/><path d="M162 250 C166.7 261.3 175.3 303 190 318 C204.7 333 229.7 343 250 340 C270.3 337 301.7 306.7 312 300" class="t"/><path d="M185 230 C188.3 239.2 192.5 272 205 285 C217.5 298 242.8 308 260 308 C277.2 308 300 288.8 308 285" class="t"/><path d="M108 322 L145 285 L185 315 L195 350 L160 382 L125 350 Z" class="w"/><path d="M145 285 L165 345 L195 350 M125 350 L165 345" class="t"/><path d="M150 235 L165 275 M135 250 L150 285" class="b"/></g>
<g transform="translate(325 185) scale(0.09772)"><path d="M300 105 L395 150 L440 185 L425 235 L370 225 L345 180 L285 150 Z" class="w"/><path d="M305 122 L385 162 M298 138 L372 175 M395 150 L370 225 M330 118 L322 150 M360 135 L350 165" class="t"/><path d="M382.7 388.4 L502.7 440.4 L527.3 383.6 L407.3 331.6Z" style="fill:#fff;stroke:none"/><path d="M382.7 388.4 L502.7 440.4"/><path d="M407.3 331.6 L527.3 383.6"/><ellipse cx="515" cy="412" rx="24" ry="34" transform="rotate(22 515 412)" class="w"/><path d="M430 360 L420 395 M450 368 L440 402 M470 377 L462 410" class="t"/><path d="M310 300 L440 268 L482 300 L470 318 L405 335 L395 420 L412 462 L395 470 L335 425 L318 380 Z" class="w"/><path d="M345 318 L440 290 M350 340 L395 330 M360 360 L360 400 L400 440 M335 300 L345 380" class="t"/><path d="M372 300 L380 360 L420 385 M330 380 L395 420" class="b"/><path d="M495 300 C495.8 291.7 494.2 260.8 500 250 C505.8 239.2 522.2 233.3 530 235 C537.8 236.7 548.7 250.8 547 260 C545.3 269.2 528.7 283.3 520 290 C511.3 296.7 499.2 298.3 495 300" class="w"/><path d="M440 268 L495 298" class="t"/><ellipse cx="232" cy="268" rx="105" ry="128" transform="rotate(22 232 268)" class="w"/><ellipse cx="236" cy="270" rx="90" ry="112" transform="rotate(22 236 270)" class="t"/><ellipse cx="258" cy="282" rx="55" ry="82" transform="rotate(22 258 282)"/><path d="M300 215 C305 224.2 327 249.2 330 270 C333 290.8 326.3 323.3 318 340 C309.7 356.7 286.3 365 280 370" class="t"/><path d="M155 375 L215 405 L210 422 L150 392 Z" class="w"/></g>
<g transform="translate(215 250) scale(0.11401)"><ellipse cx="503" cy="318" rx="44" ry="24" transform="rotate(24 503 318)" class="w"/><ellipse cx="498" cy="304" rx="44" ry="24" transform="rotate(24 498 304)" class="w"/><path d="M458 286 L463 300 M538 322 L543 336" class="t"/><ellipse cx="490" cy="290" rx="58" ry="29" transform="rotate(24 490 290)" class="w"/><ellipse cx="487" cy="283" rx="58" ry="29" transform="rotate(24 487 283)" class="w"/><path d="M381.7 154.4 L455.7 289.4 L508.3 260.6 L434.3 125.6Z" style="fill:#fff;stroke:none"/><path d="M381.7 154.4 L455.7 289.4"/><path d="M434.3 125.6 L508.3 260.6"/><path d="M0 -30 A8.4 30 0 0 1 0 30" transform="translate(413.3 149.8) rotate(61.3)" class=""/><path d="M0 -30 A8.4 30 0 0 1 0 30" transform="translate(422.3 166) rotate(61.3)" class=""/><path d="M0 -30 A8.4 30 0 0 1 0 30" transform="translate(431.2 182.3) rotate(61.3)" class=""/><path d="M0 -30 A8.4 30 0 0 1 0 30" transform="translate(440.1 198.6) rotate(61.3)" class=""/><path d="M0 -30 A8.4 30 0 0 1 0 30" transform="translate(449 214.8) rotate(61.3)" class=""/><path d="M0 -30 A8.4 30 0 0 1 0 30" transform="translate(457.9 231.1) rotate(61.3)" class=""/><path d="M0 -30 A8.4 30 0 0 1 0 30" transform="translate(466.8 247.3) rotate(61.3)" class=""/><path d="M0 -30 A8.4 30 0 0 1 0 30" transform="translate(475.8 263.6) rotate(61.3)" class=""/><path d="M380 152 C382 147 384.7 127.3 392 122 C399.3 116.7 416.7 117.3 424 120 C431.3 122.7 434 135 436 138" class="w"/><ellipse cx="155" cy="478" rx="70" ry="52" transform="rotate(12 155 478)" class="w"/><ellipse cx="155" cy="465" rx="70" ry="52" transform="rotate(12 155 465)" class="w"/><ellipse cx="155" cy="465" rx="45" ry="30" transform="rotate(12 155 465)"/></g>
<g transform="translate(150 120) scale(0.13029)"><path d="M156 310.8 L190 386.8 L274 349.2 L240 273.2Z" style="fill:#fff;stroke:none"/><path d="M156 310.8 L190 386.8"/><path d="M240 273.2 L274 349.2"/><path d="M0 -46 A15.2 46 0 0 1 0 46" transform="translate(201.2 299.2) rotate(65.9)" class="t"/><path d="M0 -46 A15.2 46 0 0 1 0 46" transform="translate(206.6 311.3) rotate(65.9)" class="t"/><path d="M0 -46 A15.2 46 0 0 1 0 46" transform="translate(212 323.4) rotate(65.9)" class="t"/><path d="M0 -46 A15.2 46 0 0 1 0 46" transform="translate(217.4 335.4) rotate(65.9)" class="t"/><path d="M0 -46 A15.2 46 0 0 1 0 46" transform="translate(222.8 347.5) rotate(65.9)" class="t"/><path d="M0 -46 A15.2 46 0 0 1 0 46" transform="translate(228.2 359.6) rotate(65.9)" class="t"/><ellipse cx="232" cy="368" rx="15.2" ry="46" transform="rotate(65.9 232 368)" class="w"/><ellipse cx="186" cy="252" rx="78" ry="60" transform="rotate(-15 186 252)" class="w"/><ellipse cx="180" cy="240" rx="78" ry="60" transform="rotate(-15 180 240)" class="w"/><ellipse cx="178" cy="238" rx="62" ry="47" transform="rotate(-15 178 238)" class="t"/><ellipse cx="175" cy="235" rx="40" ry="30" transform="rotate(-15 175 235)"/><ellipse cx="174" cy="234" rx="22" ry="16" transform="rotate(-15 174 234)"/><ellipse cx="265" cy="475" rx="63" ry="50" transform="rotate(-20 265 475)" class="w"/><ellipse cx="265" cy="465" rx="63" ry="50" transform="rotate(-20 265 465)" class="w"/><ellipse cx="265" cy="465" rx="42" ry="32" transform="rotate(-20 265 465)"/></g>
<g transform="translate(440 50) scale(0.28339)"><path d="M520.3 146.5 L512.3 196.5 L555.7 203.5 L563.7 153.5Z" style="fill:#fff;stroke:none"/><path d="M520.3 146.5 L512.3 196.5"/><path d="M563.7 153.5 L555.7 203.5"/><path d="M0 -22 A6.6 22 0 0 1 0 22" transform="translate(541.1 155.7) rotate(99.1)" class="t"/><path d="M0 -22 A6.6 22 0 0 1 0 22" transform="translate(539.6 165.1) rotate(99.1)" class="t"/><path d="M0 -22 A6.6 22 0 0 1 0 22" transform="translate(538.1 174.5) rotate(99.1)" class="t"/><path d="M0 -22 A6.6 22 0 0 1 0 22" transform="translate(536.6 184) rotate(99.1)" class="t"/><path d="M0 -22 A6.6 22 0 0 1 0 22" transform="translate(535.1 193.4) rotate(99.1)" class="t"/><ellipse cx="534" cy="200" rx="6.6" ry="22" transform="rotate(99.1 534 200)" class="w"/><ellipse cx="548" cy="143" rx="34" ry="17" transform="rotate(8 548 143)" class="w"/><ellipse cx="548" cy="136" rx="34" ry="17" transform="rotate(8 548 136)" class="w"/><ellipse cx="548" cy="134" rx="24" ry="11" transform="rotate(8 548 134)" class="t"/><ellipse cx="548" cy="133" rx="13" ry="6" transform="rotate(8 548 133)"/><ellipse cx="525" cy="242" rx="29" ry="15" transform="rotate(8 525 242)" class="w"/><ellipse cx="525" cy="237" rx="29" ry="15" transform="rotate(8 525 237)" class="w"/><ellipse cx="525" cy="237" rx="18" ry="8" transform="rotate(8 525 237)"/><ellipse cx="490" cy="417" rx="29" ry="15" transform="rotate(8 490 417)" class="w"/><ellipse cx="490" cy="412" rx="29" ry="15" transform="rotate(8 490 412)" class="w"/><ellipse cx="490" cy="412" rx="18" ry="8" transform="rotate(8 490 412)"/></g>
<g transform="translate(485 180) scale(0.09772)"><path d="M300 490 C293.3 488.3 285 471.7 260 480 C235 488.3 175.8 518.3 150 540 C124.2 561.7 112.5 590 105 610 C97.5 630 99.2 646.3 105 660 C110.8 673.7 125.8 689.3 140 692 C154.2 694.7 177.5 684.7 190 676 C202.5 667.3 196.7 652.7 215 640 C233.3 627.3 285.8 606.7 300 600" class="w"/><path d="M262 492 C245 502 183.7 532 160 552 C136.3 572 127 594.8 120 612 C113 629.2 118.3 647.8 118 655" class="t"/><ellipse cx="178" cy="615" rx="25" ry="21" transform="rotate(-30 178 615)"/><ellipse cx="176" cy="617" rx="12" ry="10" transform="rotate(-30 176 617)" class="t"/><path d="M245 298 L150 296 Q125 290 125 260 L128 195 Q135 110 215 97 L300 100 Q420 88 455 220 Q462 300 380 520 L348 615 L325 628 L295 598 L340 475 Q345 445 322 415 Q302 385 306 335 Q328 280 330 200 Q320 110 275 98" class="w"/><path d="M275 98 Q320 110 330 200 Q328 280 306 335"/><path d="M215 270 L170 268 L170 195 Q180 138 235 135 Q265 140 248 188 Z"/><path d="M215 270 L245 298"/><path d="M345 150 Q400 155 410 240 Q402 340 355 470 Q346 400 348 330 Z"/><path d="M340 475 L365 495 M322 415 Q340 440 355 470" class="t"/></g>
<path d="M527.9 258 L537.7 263.8 L541.1 258.2 L531.3 252.4Z" style="fill:#fff;stroke:none"/><path d="M527.9 258 L537.7 263.8"/><path d="M531.3 252.4 L541.1 258.2"/><path d="M0 -3.3 A0.9 3.3 0 0 1 0 3.3" transform="translate(531 256) rotate(30.6)" class="t"/><path d="M0 -3.3 A0.9 3.3 0 0 1 0 3.3" transform="translate(533.2 257.4) rotate(30.6)" class="t"/><path d="M0 -3.3 A0.9 3.3 0 0 1 0 3.3" transform="translate(535.5 258.7) rotate(30.6)" class="t"/><path d="M0 -3.3 A0.9 3.3 0 0 1 0 3.3" transform="translate(537.8 260.1) rotate(30.6)" class="t"/><ellipse cx="541" cy="262" rx="2.6" ry="5.6" transform="rotate(28 541 262)" class="w"/><ellipse cx="545.3" cy="265" rx="5.2" ry="6.3" transform="rotate(28 545.3 265)" class="w"/><ellipse cx="546" cy="265.4" rx="2.6" ry="3.2" transform="rotate(28 546 265.4)"/><text transform="translate(290.6 67.8) scale(1.28 1)" font-size="9.6" text-anchor="start">31</text><text transform="translate(432.6 149.8) scale(1.28 1)" font-size="9.6" text-anchor="start">32</text><text transform="translate(551.6 81.8) scale(1.28 1)" font-size="9.6" text-anchor="start">35</text><text transform="translate(546.6 113.5) scale(1.28 1)" font-size="9.6" text-anchor="start">36</text><text transform="translate(573.3 202.8) scale(1.28 1)" font-size="9.6" text-anchor="start">36</text><text transform="translate(195.2 131.3) scale(1.28 1)" font-size="9.6" text-anchor="start">35</text><text transform="translate(204.3 159.5) scale(1.28 1)" font-size="9.6" text-anchor="start">36</text><text transform="translate(124.6 191.3) scale(1.28 1)" font-size="9.6" text-anchor="start">34</text><text transform="translate(346.6 257.3) scale(1.28 1)" font-size="9.6" text-anchor="start">3</text><text transform="translate(480.6 272.4) scale(1.28 1)" font-size="9.6" text-anchor="start">1</text><text transform="translate(521.2 291) scale(1.28 1)" font-size="9.6" text-anchor="start">2</text><text transform="translate(290.1 271) scale(1.28 1)" font-size="9.6" text-anchor="start">33</text><text transform="translate(261.7 308.8) scale(1.28 1)" font-size="9.6" text-anchor="start">36</text><text transform="translate(195.6 334.8) scale(1.28 1)" font-size="9.6" text-anchor="start">37</text><text transform="translate(112.7 267.4) scale(1.28 1)" font-size="9.6" text-anchor="start">13</text><text transform="translate(112.7 301.8) scale(1.28 1)" font-size="9.6" text-anchor="start">14</text><text transform="translate(112.7 336.3) scale(1.28 1)" font-size="9.6" text-anchor="start">15</text><text transform="translate(15.7 316.1) scale(1.28 1)" font-size="9.6" text-anchor="start">12</text><text transform="translate(12.6 421.8) scale(1.28 1)" font-size="9.6" text-anchor="start">30</text><text transform="translate(62.9 464.2) scale(1.28 1)" font-size="9.6" text-anchor="start">16</text><text transform="translate(89.9 476.6) scale(1.28 1)" font-size="9.6" text-anchor="start">17</text><text transform="translate(189.2 428.1) scale(1.28 1)" font-size="9.6" text-anchor="start">28</text><text transform="translate(222.4 427.2) scale(1.28 1)" font-size="9.6" text-anchor="start">27</text><text transform="translate(187.6 474.1) scale(1.28 1)" font-size="9.6" text-anchor="start">4</text><text transform="translate(33.8 529.4) scale(1.28 1)" font-size="9.6" text-anchor="start">29</text><text transform="translate(43.6 572.3) scale(1.28 1)" font-size="9.6" text-anchor="start">20</text><text transform="translate(64.7 602.9) scale(1.28 1)" font-size="9.6" text-anchor="start">20</text><text transform="translate(354.8 340) scale(1.28 1)" font-size="9.6" text-anchor="start">18</text><text transform="translate(370.7 385.6) scale(1.28 1)" font-size="9.6" text-anchor="start">19</text><text transform="translate(286.9 409.4) scale(1.28 1)" font-size="9.6" text-anchor="start">19</text><text transform="translate(415.3 461.5) scale(1.28 1)" font-size="9.6" text-anchor="start">11</text><text transform="translate(395.3 476.2) scale(1.28 1)" font-size="9.6" text-anchor="start">9</text><text transform="translate(451.2 473.1) scale(1.28 1)" font-size="9.6" text-anchor="start">5</text><text transform="translate(371.5 497.3) scale(1.28 1)" font-size="9.6" text-anchor="start">8</text><text transform="translate(350.8 512.6) scale(1.28 1)" font-size="9.6" text-anchor="start">10</text><text transform="translate(368.9 561.9) scale(1.28 1)" font-size="9.6" text-anchor="start">6</text><text transform="translate(380.3 594.5) scale(1.28 1)" font-size="9.6" text-anchor="start">7</text><text transform="translate(429.9 621.3) scale(1.28 1)" font-size="9.6" text-anchor="start">22</text><text transform="translate(224 638) scale(1.28 1)" font-size="9.6" text-anchor="start">24</text><text transform="translate(248.5 651) scale(1.28 1)" font-size="9.6" text-anchor="start">23</text><text transform="translate(421.1 695.4) scale(1.28 1)" font-size="9.6" text-anchor="start">25</text><text transform="translate(455.6 748) scale(1.28 1)" font-size="9.6" text-anchor="start">26</text><text transform="translate(286.4 785.7) scale(1.28 1)" font-size="9.6" text-anchor="start">21</text><text transform="translate(32.6 789.6) scale(1.14 1)" font-size="10.6">2CR1300-P390</text></svg>
</body></html>
